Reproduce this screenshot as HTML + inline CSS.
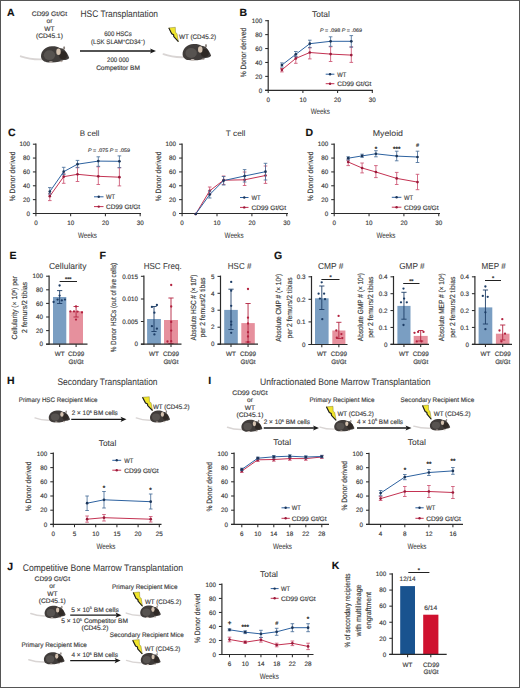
<!DOCTYPE html><html><head><meta charset="utf-8"><style>html,body{margin:0;padding:0;background:#fff;}svg{display:block;font-family:"Liberation Sans",sans-serif;text-rendering:geometricPrecision;}text{stroke:currentColor;stroke-width:0.15px;}text.big{stroke-width:0.06px;}</style></head><body>
<svg width="520" height="688" viewBox="0 0 520 688">
<rect x="0" y="0" width="520" height="688" fill="#fff"/>
<text x="7.00" y="15.70" font-size="10.5" font-weight="bold" fill="#111" color="#111">A</text>
<text x="49.50" y="16.18" font-size="6.6" text-anchor="middle" textLength="35.50" lengthAdjust="spacingAndGlyphs" fill="#3a3a3a" color="#3a3a3a">CD99 Gt/Gt</text>
<text x="49.50" y="23.38" font-size="6.6" text-anchor="middle" fill="#3a3a3a" color="#3a3a3a">or</text>
<text x="49.50" y="30.78" font-size="6.6" text-anchor="middle" fill="#3a3a3a" color="#3a3a3a">WT</text>
<text x="49.50" y="38.38" font-size="6.6" text-anchor="middle" textLength="27.00" lengthAdjust="spacingAndGlyphs" fill="#3a3a3a" color="#3a3a3a">(CD45.1)</text>
<path d="M43.82,59.26 Q30.90,59.91 20.80,56.34" fill="none" stroke="#d9d5d4" stroke-width="1.94" stroke-linecap="round"/>
<path d="M41.00,56.34 C41.00,51.16 45.23,46.62 51.72,46.30 C55.10,46.14 57.92,46.79 59.61,47.92 C61.30,48.24 63.00,48.24 64.12,49.54 C66.38,51.97 68.35,55.21 69.20,57.96 C68.64,59.26 66.38,59.91 63.56,60.07 C60.74,62.18 53.69,62.82 46.64,62.18 C43.26,61.69 41.00,59.26 41.00,56.34 Z" fill="#403c3a"/>
<ellipse cx="49.46" cy="55.21" rx="5.64" ry="4.86" fill="#6e6a66" opacity="0.5"/>
<ellipse cx="63.00" cy="55.21" rx="3.95" ry="4.05" fill="#2a2420" opacity="0.8"/>
<ellipse cx="64.12" cy="47.92" rx="0.99" ry="1.62" fill="#8d8580"/>
<ellipse cx="58.48" cy="51.65" rx="2.20" ry="3.24" fill="#d4c2b0"/>
<ellipse cx="50.87" cy="62.01" rx="1.97" ry="0.81" fill="#c9beb8"/>
<ellipse cx="61.30" cy="61.37" rx="1.41" ry="0.81" fill="#b9aea8"/>
<text class="big" x="80.50" y="17.46" font-size="9.6" textLength="77.50" lengthAdjust="spacingAndGlyphs" fill="#3a3a3a" color="#3a3a3a">HSC Transplantation</text>
<text x="118.00" y="36.38" font-size="6.6" text-anchor="middle" textLength="27.50" lengthAdjust="spacingAndGlyphs" fill="#3a3a3a" color="#3a3a3a">600 HSCs</text>
<text x="118.00" y="44.18" font-size="6.6" text-anchor="middle" textLength="54.00" lengthAdjust="spacingAndGlyphs" fill="#3a3a3a" color="#3a3a3a">(LSK SLAM<tspan font-size="4" dy="-2.5">+</tspan><tspan dy="2.5">CD34</tspan><tspan font-size="4" dy="-2.5">−</tspan><tspan dy="2.5">)</tspan></text>
<line x1="80.00" y1="51.00" x2="152.00" y2="51.00" stroke="#1a1a1a" stroke-width="1.3"/>
<polygon points="150.00,48.40 156.00,51.00 150.00,53.60 151.40,51.00" fill="#1a1a1a"/>
<text x="118.00" y="61.88" font-size="6.6" text-anchor="middle" textLength="22.00" lengthAdjust="spacingAndGlyphs" fill="#3a3a3a" color="#3a3a3a">200 000</text>
<text x="118.00" y="69.88" font-size="6.6" text-anchor="middle" textLength="43.75" lengthAdjust="spacingAndGlyphs" fill="#3a3a3a" color="#3a3a3a">Competitor BM</text>
<polygon points="168.80,27.88 175.33,27.30 175.52,32.48 177.06,33.64 178.40,41.70 173.79,36.52 173.60,34.79 171.68,33.78" fill="#f0e52c" stroke="#6b6420" stroke-width="0.4" stroke-linejoin="round"/>
<polyline points="168.80,27.88 171.68,33.78 173.60,34.79 173.79,36.52 178.40,41.70" fill="none" stroke="#1c1c1c" stroke-width="1.1" stroke-linejoin="round"/>
<text x="179.00" y="38.88" font-size="6.6" textLength="37.00" lengthAdjust="spacingAndGlyphs" fill="#3a3a3a" color="#3a3a3a">WT (CD45.2)</text>
<path d="M185.45,57.12 Q173.05,57.78 163.50,54.17" fill="none" stroke="#d9d5d4" stroke-width="1.97" stroke-linecap="round"/>
<path d="M182.60,54.17 C182.60,48.92 186.88,44.33 193.43,44.00 C196.85,43.84 199.70,44.49 201.41,45.64 C203.12,45.97 204.83,45.97 205.97,47.28 C208.25,49.74 210.25,53.02 211.10,55.81 C210.53,57.12 208.25,57.78 205.40,57.94 C202.55,60.07 195.42,60.73 188.30,60.07 C184.88,59.58 182.60,57.12 182.60,54.17 Z" fill="#403c3a"/>
<ellipse cx="191.15" cy="53.02" rx="5.70" ry="4.92" fill="#6e6a66" opacity="0.5"/>
<ellipse cx="204.83" cy="53.02" rx="3.99" ry="4.10" fill="#2a2420" opacity="0.8"/>
<ellipse cx="205.97" cy="45.64" rx="1.00" ry="1.64" fill="#8d8580"/>
<ellipse cx="200.27" cy="49.41" rx="2.22" ry="3.28" fill="#d4c2b0"/>
<ellipse cx="192.57" cy="59.91" rx="2.00" ry="0.82" fill="#c9beb8"/>
<ellipse cx="203.12" cy="59.25" rx="1.43" ry="0.82" fill="#b9aea8"/>
<text x="239.50" y="16.00" font-size="10.5" font-weight="bold" fill="#111" color="#111">B</text>
<text class="big" x="321.00" y="17.02" font-size="8.4" text-anchor="middle" textLength="17.90" lengthAdjust="spacingAndGlyphs" fill="#3a3a3a" color="#3a3a3a">Total</text>
<line x1="268.20" y1="19.90" x2="268.20" y2="90.80" stroke="#2b2b2b" stroke-width="1.2"/>
<line x1="265.20" y1="90.30" x2="268.20" y2="90.30" stroke="#2b2b2b" stroke-width="1.05"/>
<text x="262.20" y="92.57" font-size="6.3" text-anchor="end" fill="#3a3a3a" color="#3a3a3a">0</text>
<line x1="265.20" y1="76.38" x2="268.20" y2="76.38" stroke="#2b2b2b" stroke-width="1.05"/>
<text x="262.20" y="78.65" font-size="6.3" text-anchor="end" fill="#3a3a3a" color="#3a3a3a">20</text>
<line x1="265.20" y1="62.46" x2="268.20" y2="62.46" stroke="#2b2b2b" stroke-width="1.05"/>
<text x="262.20" y="64.73" font-size="6.3" text-anchor="end" fill="#3a3a3a" color="#3a3a3a">40</text>
<line x1="265.20" y1="48.54" x2="268.20" y2="48.54" stroke="#2b2b2b" stroke-width="1.05"/>
<text x="262.20" y="50.81" font-size="6.3" text-anchor="end" fill="#3a3a3a" color="#3a3a3a">60</text>
<line x1="265.20" y1="34.62" x2="268.20" y2="34.62" stroke="#2b2b2b" stroke-width="1.05"/>
<text x="262.20" y="36.89" font-size="6.3" text-anchor="end" fill="#3a3a3a" color="#3a3a3a">80</text>
<line x1="265.20" y1="20.70" x2="268.20" y2="20.70" stroke="#2b2b2b" stroke-width="1.05"/>
<text x="262.20" y="22.97" font-size="6.3" text-anchor="end" fill="#3a3a3a" color="#3a3a3a">100</text>
<line x1="265.20" y1="90.30" x2="373.00" y2="90.30" stroke="#2b2b2b" stroke-width="1.2"/>
<line x1="268.20" y1="90.30" x2="268.20" y2="93.10" stroke="#2b2b2b" stroke-width="1.05"/>
<text x="268.20" y="101.87" font-size="6.3" text-anchor="middle" fill="#3a3a3a" color="#3a3a3a">0</text>
<line x1="302.90" y1="90.30" x2="302.90" y2="93.10" stroke="#2b2b2b" stroke-width="1.05"/>
<text x="302.90" y="101.87" font-size="6.3" text-anchor="middle" fill="#3a3a3a" color="#3a3a3a">10</text>
<line x1="337.60" y1="90.30" x2="337.60" y2="93.10" stroke="#2b2b2b" stroke-width="1.05"/>
<text x="337.60" y="101.87" font-size="6.3" text-anchor="middle" fill="#3a3a3a" color="#3a3a3a">20</text>
<line x1="372.30" y1="90.30" x2="372.30" y2="93.10" stroke="#2b2b2b" stroke-width="1.05"/>
<text x="372.30" y="101.87" font-size="6.3" text-anchor="middle" fill="#3a3a3a" color="#3a3a3a">30</text>
<text class="big" x="320.30" y="114.48" font-size="8" text-anchor="middle" textLength="19.00" lengthAdjust="spacingAndGlyphs" fill="#3a3a3a" color="#3a3a3a">Weeks</text>
<text transform="translate(246.41,52.60) rotate(-90)" text-anchor="middle" font-size="7.8" textLength="49.50" lengthAdjust="spacingAndGlyphs" fill="#3a3a3a" color="#3a3a3a">% Donor derived</text>
<line x1="281.90" y1="68.50" x2="281.90" y2="71.90" stroke="#cc5472" stroke-width="0.85"/>
<line x1="280.10" y1="68.50" x2="283.70" y2="68.50" stroke="#cc5472" stroke-width="0.85"/>
<line x1="280.10" y1="71.90" x2="283.70" y2="71.90" stroke="#cc5472" stroke-width="0.85"/>
<line x1="295.80" y1="56.30" x2="295.80" y2="63.30" stroke="#cc5472" stroke-width="0.85"/>
<line x1="294.00" y1="56.30" x2="297.60" y2="56.30" stroke="#cc5472" stroke-width="0.85"/>
<line x1="294.00" y1="63.30" x2="297.60" y2="63.30" stroke="#cc5472" stroke-width="0.85"/>
<line x1="309.80" y1="47.70" x2="309.80" y2="58.90" stroke="#cc5472" stroke-width="0.85"/>
<line x1="308.00" y1="47.70" x2="311.60" y2="47.70" stroke="#cc5472" stroke-width="0.85"/>
<line x1="308.00" y1="58.90" x2="311.60" y2="58.90" stroke="#cc5472" stroke-width="0.85"/>
<line x1="330.60" y1="46.80" x2="330.60" y2="61.50" stroke="#cc5472" stroke-width="0.85"/>
<line x1="328.80" y1="46.80" x2="332.40" y2="46.80" stroke="#cc5472" stroke-width="0.85"/>
<line x1="328.80" y1="61.50" x2="332.40" y2="61.50" stroke="#cc5472" stroke-width="0.85"/>
<line x1="351.30" y1="46.80" x2="351.30" y2="62.40" stroke="#cc5472" stroke-width="0.85"/>
<line x1="349.50" y1="46.80" x2="353.10" y2="46.80" stroke="#cc5472" stroke-width="0.85"/>
<line x1="349.50" y1="62.40" x2="353.10" y2="62.40" stroke="#cc5472" stroke-width="0.85"/>
<polyline points="281.90,69.80 295.80,58.40 309.80,52.50 330.60,54.10 351.30,55.10" fill="none" stroke="#c43252" stroke-width="1.0"/>
<circle cx="281.90" cy="69.80" r="1.35" fill="#9a1a3a"/>
<circle cx="295.80" cy="58.40" r="1.35" fill="#9a1a3a"/>
<circle cx="309.80" cy="52.50" r="1.35" fill="#9a1a3a"/>
<circle cx="330.60" cy="54.10" r="1.35" fill="#9a1a3a"/>
<circle cx="351.30" cy="55.10" r="1.35" fill="#9a1a3a"/>
<line x1="281.90" y1="62.90" x2="281.90" y2="67.10" stroke="#4a6f9a" stroke-width="0.85"/>
<line x1="280.10" y1="62.90" x2="283.70" y2="62.90" stroke="#4a6f9a" stroke-width="0.85"/>
<line x1="280.10" y1="67.10" x2="283.70" y2="67.10" stroke="#4a6f9a" stroke-width="0.85"/>
<line x1="295.80" y1="51.50" x2="295.80" y2="56.70" stroke="#4a6f9a" stroke-width="0.85"/>
<line x1="294.00" y1="51.50" x2="297.60" y2="51.50" stroke="#4a6f9a" stroke-width="0.85"/>
<line x1="294.00" y1="56.70" x2="297.60" y2="56.70" stroke="#4a6f9a" stroke-width="0.85"/>
<line x1="309.80" y1="40.20" x2="309.80" y2="47.70" stroke="#4a6f9a" stroke-width="0.85"/>
<line x1="308.00" y1="40.20" x2="311.60" y2="40.20" stroke="#4a6f9a" stroke-width="0.85"/>
<line x1="308.00" y1="47.70" x2="311.60" y2="47.70" stroke="#4a6f9a" stroke-width="0.85"/>
<line x1="330.60" y1="36.80" x2="330.60" y2="46.30" stroke="#4a6f9a" stroke-width="0.85"/>
<line x1="328.80" y1="36.80" x2="332.40" y2="36.80" stroke="#4a6f9a" stroke-width="0.85"/>
<line x1="328.80" y1="46.30" x2="332.40" y2="46.30" stroke="#4a6f9a" stroke-width="0.85"/>
<line x1="351.30" y1="35.60" x2="351.30" y2="47.20" stroke="#4a6f9a" stroke-width="0.85"/>
<line x1="349.50" y1="35.60" x2="353.10" y2="35.60" stroke="#4a6f9a" stroke-width="0.85"/>
<line x1="349.50" y1="47.20" x2="353.10" y2="47.20" stroke="#4a6f9a" stroke-width="0.85"/>
<polyline points="281.90,65.00 295.80,54.30 309.80,43.70 330.60,41.30 351.30,41.30" fill="none" stroke="#2d62a0" stroke-width="1.0"/>
<circle cx="281.90" cy="65.00" r="1.35" fill="#1c3558"/>
<circle cx="295.80" cy="54.30" r="1.35" fill="#1c3558"/>
<circle cx="309.80" cy="43.70" r="1.35" fill="#1c3558"/>
<circle cx="330.60" cy="41.30" r="1.35" fill="#1c3558"/>
<circle cx="351.30" cy="41.30" r="1.35" fill="#1c3558"/>
<text x="320.00" y="31.67" font-size="5.2" textLength="42.00" lengthAdjust="spacingAndGlyphs" fill="#3a3a3a" color="#3a3a3a"><tspan font-style="italic">P</tspan> = .098 <tspan font-style="italic">P</tspan> = .069</text>
<line x1="325.70" y1="74.20" x2="334.40" y2="74.20" stroke="#2d62a0" stroke-width="1.0"/>
<circle cx="330.05" cy="74.20" r="1.2" fill="#1c3558"/>
<line x1="325.70" y1="83.70" x2="334.40" y2="83.70" stroke="#c43252" stroke-width="1.0"/>
<circle cx="330.05" cy="83.70" r="1.2" fill="#9a1a3a"/>
<text x="337.20" y="76.54" font-size="6.5" textLength="9.00" lengthAdjust="spacingAndGlyphs" fill="#3a3a3a" color="#3a3a3a">WT</text>
<text x="337.20" y="86.04" font-size="6.5" textLength="34.20" lengthAdjust="spacingAndGlyphs" fill="#3a3a3a" color="#3a3a3a">CD99 Gt/Gt</text>
<text x="8.00" y="135.50" font-size="10.5" font-weight="bold" fill="#111" color="#111">C</text>
<text class="big" x="89.60" y="135.58" font-size="8" text-anchor="middle" textLength="19.60" lengthAdjust="spacingAndGlyphs" fill="#3a3a3a" color="#3a3a3a">B cell</text>
<line x1="35.90" y1="143.40" x2="35.90" y2="214.00" stroke="#2b2b2b" stroke-width="1.2"/>
<line x1="32.90" y1="213.50" x2="35.90" y2="213.50" stroke="#2b2b2b" stroke-width="1.05"/>
<text x="29.90" y="215.77" font-size="6.3" text-anchor="end" fill="#3a3a3a" color="#3a3a3a">0</text>
<line x1="32.90" y1="199.64" x2="35.90" y2="199.64" stroke="#2b2b2b" stroke-width="1.05"/>
<text x="29.90" y="201.91" font-size="6.3" text-anchor="end" fill="#3a3a3a" color="#3a3a3a">20</text>
<line x1="32.90" y1="185.78" x2="35.90" y2="185.78" stroke="#2b2b2b" stroke-width="1.05"/>
<text x="29.90" y="188.05" font-size="6.3" text-anchor="end" fill="#3a3a3a" color="#3a3a3a">40</text>
<line x1="32.90" y1="171.92" x2="35.90" y2="171.92" stroke="#2b2b2b" stroke-width="1.05"/>
<text x="29.90" y="174.19" font-size="6.3" text-anchor="end" fill="#3a3a3a" color="#3a3a3a">60</text>
<line x1="32.90" y1="158.06" x2="35.90" y2="158.06" stroke="#2b2b2b" stroke-width="1.05"/>
<text x="29.90" y="160.33" font-size="6.3" text-anchor="end" fill="#3a3a3a" color="#3a3a3a">80</text>
<line x1="32.90" y1="144.20" x2="35.90" y2="144.20" stroke="#2b2b2b" stroke-width="1.05"/>
<text x="29.90" y="146.47" font-size="6.3" text-anchor="end" fill="#3a3a3a" color="#3a3a3a">100</text>
<line x1="32.90" y1="213.50" x2="141.00" y2="213.50" stroke="#2b2b2b" stroke-width="1.2"/>
<line x1="35.90" y1="213.50" x2="35.90" y2="216.30" stroke="#2b2b2b" stroke-width="1.05"/>
<text x="35.90" y="225.47" font-size="6.3" text-anchor="middle" fill="#3a3a3a" color="#3a3a3a">0</text>
<line x1="70.65" y1="213.50" x2="70.65" y2="216.30" stroke="#2b2b2b" stroke-width="1.05"/>
<text x="70.65" y="225.47" font-size="6.3" text-anchor="middle" fill="#3a3a3a" color="#3a3a3a">10</text>
<line x1="105.40" y1="213.50" x2="105.40" y2="216.30" stroke="#2b2b2b" stroke-width="1.05"/>
<text x="105.40" y="225.47" font-size="6.3" text-anchor="middle" fill="#3a3a3a" color="#3a3a3a">20</text>
<line x1="140.15" y1="213.50" x2="140.15" y2="216.30" stroke="#2b2b2b" stroke-width="1.05"/>
<text x="140.15" y="225.47" font-size="6.3" text-anchor="middle" fill="#3a3a3a" color="#3a3a3a">30</text>
<text class="big" x="87.50" y="238.08" font-size="8" text-anchor="middle" textLength="19.00" lengthAdjust="spacingAndGlyphs" fill="#3a3a3a" color="#3a3a3a">Weeks</text>
<text transform="translate(14.81,176.40) rotate(-90)" text-anchor="middle" font-size="7.8" textLength="49.50" lengthAdjust="spacingAndGlyphs" fill="#3a3a3a" color="#3a3a3a">% Donor derived</text>
<line x1="49.80" y1="193.70" x2="49.80" y2="200.60" stroke="#cc5472" stroke-width="0.85"/>
<line x1="48.00" y1="193.70" x2="51.60" y2="193.70" stroke="#cc5472" stroke-width="0.85"/>
<line x1="48.00" y1="200.60" x2="51.60" y2="200.60" stroke="#cc5472" stroke-width="0.85"/>
<line x1="63.70" y1="173.70" x2="63.70" y2="183.30" stroke="#cc5472" stroke-width="0.85"/>
<line x1="61.90" y1="173.70" x2="65.50" y2="173.70" stroke="#cc5472" stroke-width="0.85"/>
<line x1="61.90" y1="183.30" x2="65.50" y2="183.30" stroke="#cc5472" stroke-width="0.85"/>
<line x1="77.50" y1="167.30" x2="77.50" y2="181.50" stroke="#cc5472" stroke-width="0.85"/>
<line x1="75.70" y1="167.30" x2="79.30" y2="167.30" stroke="#cc5472" stroke-width="0.85"/>
<line x1="75.70" y1="181.50" x2="79.30" y2="181.50" stroke="#cc5472" stroke-width="0.85"/>
<line x1="98.30" y1="166.80" x2="98.30" y2="184.50" stroke="#cc5472" stroke-width="0.85"/>
<line x1="96.50" y1="166.80" x2="100.10" y2="166.80" stroke="#cc5472" stroke-width="0.85"/>
<line x1="96.50" y1="184.50" x2="100.10" y2="184.50" stroke="#cc5472" stroke-width="0.85"/>
<line x1="119.40" y1="167.70" x2="119.40" y2="185.90" stroke="#cc5472" stroke-width="0.85"/>
<line x1="117.60" y1="167.70" x2="121.20" y2="167.70" stroke="#cc5472" stroke-width="0.85"/>
<line x1="117.60" y1="185.90" x2="121.20" y2="185.90" stroke="#cc5472" stroke-width="0.85"/>
<polyline points="49.80,196.20 63.70,176.70 77.50,174.30 98.30,176.30 119.40,177.20" fill="none" stroke="#c43252" stroke-width="1.0"/>
<circle cx="49.80" cy="196.20" r="1.35" fill="#9a1a3a"/>
<circle cx="63.70" cy="176.70" r="1.35" fill="#9a1a3a"/>
<circle cx="77.50" cy="174.30" r="1.35" fill="#9a1a3a"/>
<circle cx="98.30" cy="176.30" r="1.35" fill="#9a1a3a"/>
<circle cx="119.40" cy="177.20" r="1.35" fill="#9a1a3a"/>
<line x1="49.80" y1="187.60" x2="49.80" y2="194.00" stroke="#4a6f9a" stroke-width="0.85"/>
<line x1="48.00" y1="187.60" x2="51.60" y2="187.60" stroke="#4a6f9a" stroke-width="0.85"/>
<line x1="48.00" y1="194.00" x2="51.60" y2="194.00" stroke="#4a6f9a" stroke-width="0.85"/>
<line x1="63.70" y1="167.30" x2="63.70" y2="174.60" stroke="#4a6f9a" stroke-width="0.85"/>
<line x1="61.90" y1="167.30" x2="65.50" y2="167.30" stroke="#4a6f9a" stroke-width="0.85"/>
<line x1="61.90" y1="174.60" x2="65.50" y2="174.60" stroke="#4a6f9a" stroke-width="0.85"/>
<line x1="77.50" y1="160.40" x2="77.50" y2="167.70" stroke="#4a6f9a" stroke-width="0.85"/>
<line x1="75.70" y1="160.40" x2="79.30" y2="160.40" stroke="#4a6f9a" stroke-width="0.85"/>
<line x1="75.70" y1="167.70" x2="79.30" y2="167.70" stroke="#4a6f9a" stroke-width="0.85"/>
<line x1="98.30" y1="156.80" x2="98.30" y2="166.30" stroke="#4a6f9a" stroke-width="0.85"/>
<line x1="96.50" y1="156.80" x2="100.10" y2="156.80" stroke="#4a6f9a" stroke-width="0.85"/>
<line x1="96.50" y1="166.30" x2="100.10" y2="166.30" stroke="#4a6f9a" stroke-width="0.85"/>
<line x1="119.40" y1="155.90" x2="119.40" y2="167.70" stroke="#4a6f9a" stroke-width="0.85"/>
<line x1="117.60" y1="155.90" x2="121.20" y2="155.90" stroke="#4a6f9a" stroke-width="0.85"/>
<line x1="117.60" y1="167.70" x2="121.20" y2="167.70" stroke="#4a6f9a" stroke-width="0.85"/>
<polyline points="49.80,191.60 63.70,171.70 77.50,164.20 98.30,161.10 119.40,161.30" fill="none" stroke="#2d62a0" stroke-width="1.0"/>
<circle cx="49.80" cy="191.60" r="1.35" fill="#1c3558"/>
<circle cx="63.70" cy="171.70" r="1.35" fill="#1c3558"/>
<circle cx="77.50" cy="164.20" r="1.35" fill="#1c3558"/>
<circle cx="98.30" cy="161.10" r="1.35" fill="#1c3558"/>
<circle cx="119.40" cy="161.30" r="1.35" fill="#1c3558"/>
<text x="87.90" y="152.27" font-size="5.2" textLength="42.00" lengthAdjust="spacingAndGlyphs" fill="#3a3a3a" color="#3a3a3a"><tspan font-style="italic">P</tspan> = .075 <tspan font-style="italic">P</tspan> = .059</text>
<line x1="94.00" y1="196.80" x2="103.50" y2="196.80" stroke="#2d62a0" stroke-width="1.0"/>
<circle cx="98.75" cy="196.80" r="1.2" fill="#1c3558"/>
<line x1="94.00" y1="206.60" x2="103.50" y2="206.60" stroke="#c43252" stroke-width="1.0"/>
<circle cx="98.75" cy="206.60" r="1.2" fill="#9a1a3a"/>
<text x="106.10" y="199.14" font-size="6.5" textLength="9.00" lengthAdjust="spacingAndGlyphs" fill="#3a3a3a" color="#3a3a3a">WT</text>
<text x="106.10" y="208.94" font-size="6.5" textLength="34.00" lengthAdjust="spacingAndGlyphs" fill="#3a3a3a" color="#3a3a3a">CD99 Gt/Gt</text>
<text class="big" x="235.60" y="135.58" font-size="8" text-anchor="middle" textLength="19.60" lengthAdjust="spacingAndGlyphs" fill="#3a3a3a" color="#3a3a3a">T cell</text>
<line x1="182.10" y1="143.40" x2="182.10" y2="214.00" stroke="#2b2b2b" stroke-width="1.2"/>
<line x1="179.10" y1="213.50" x2="182.10" y2="213.50" stroke="#2b2b2b" stroke-width="1.05"/>
<text x="176.10" y="215.77" font-size="6.3" text-anchor="end" fill="#3a3a3a" color="#3a3a3a">0</text>
<line x1="179.10" y1="199.64" x2="182.10" y2="199.64" stroke="#2b2b2b" stroke-width="1.05"/>
<text x="176.10" y="201.91" font-size="6.3" text-anchor="end" fill="#3a3a3a" color="#3a3a3a">20</text>
<line x1="179.10" y1="185.78" x2="182.10" y2="185.78" stroke="#2b2b2b" stroke-width="1.05"/>
<text x="176.10" y="188.05" font-size="6.3" text-anchor="end" fill="#3a3a3a" color="#3a3a3a">40</text>
<line x1="179.10" y1="171.92" x2="182.10" y2="171.92" stroke="#2b2b2b" stroke-width="1.05"/>
<text x="176.10" y="174.19" font-size="6.3" text-anchor="end" fill="#3a3a3a" color="#3a3a3a">60</text>
<line x1="179.10" y1="158.06" x2="182.10" y2="158.06" stroke="#2b2b2b" stroke-width="1.05"/>
<text x="176.10" y="160.33" font-size="6.3" text-anchor="end" fill="#3a3a3a" color="#3a3a3a">80</text>
<line x1="179.10" y1="144.20" x2="182.10" y2="144.20" stroke="#2b2b2b" stroke-width="1.05"/>
<text x="176.10" y="146.47" font-size="6.3" text-anchor="end" fill="#3a3a3a" color="#3a3a3a">100</text>
<line x1="179.10" y1="213.50" x2="288.00" y2="213.50" stroke="#2b2b2b" stroke-width="1.2"/>
<line x1="182.10" y1="213.50" x2="182.10" y2="216.30" stroke="#2b2b2b" stroke-width="1.05"/>
<text x="182.10" y="225.47" font-size="6.3" text-anchor="middle" fill="#3a3a3a" color="#3a3a3a">0</text>
<line x1="217.00" y1="213.50" x2="217.00" y2="216.30" stroke="#2b2b2b" stroke-width="1.05"/>
<text x="217.00" y="225.47" font-size="6.3" text-anchor="middle" fill="#3a3a3a" color="#3a3a3a">10</text>
<line x1="251.90" y1="213.50" x2="251.90" y2="216.30" stroke="#2b2b2b" stroke-width="1.05"/>
<text x="251.90" y="225.47" font-size="6.3" text-anchor="middle" fill="#3a3a3a" color="#3a3a3a">20</text>
<line x1="286.80" y1="213.50" x2="286.80" y2="216.30" stroke="#2b2b2b" stroke-width="1.05"/>
<text x="286.80" y="225.47" font-size="6.3" text-anchor="middle" fill="#3a3a3a" color="#3a3a3a">30</text>
<text class="big" x="234.10" y="238.08" font-size="8" text-anchor="middle" textLength="19.00" lengthAdjust="spacingAndGlyphs" fill="#3a3a3a" color="#3a3a3a">Weeks</text>
<text transform="translate(160.81,176.40) rotate(-90)" text-anchor="middle" font-size="7.8" textLength="49.50" lengthAdjust="spacingAndGlyphs" fill="#3a3a3a" color="#3a3a3a">% Donor derived</text>
<line x1="209.70" y1="187.00" x2="209.70" y2="194.00" stroke="#cc5472" stroke-width="0.85"/>
<line x1="207.90" y1="187.00" x2="211.50" y2="187.00" stroke="#cc5472" stroke-width="0.85"/>
<line x1="207.90" y1="194.00" x2="211.50" y2="194.00" stroke="#cc5472" stroke-width="0.85"/>
<line x1="223.60" y1="176.00" x2="223.60" y2="184.50" stroke="#cc5472" stroke-width="0.85"/>
<line x1="221.80" y1="176.00" x2="225.40" y2="176.00" stroke="#cc5472" stroke-width="0.85"/>
<line x1="221.80" y1="184.50" x2="225.40" y2="184.50" stroke="#cc5472" stroke-width="0.85"/>
<line x1="244.60" y1="172.00" x2="244.60" y2="185.50" stroke="#cc5472" stroke-width="0.85"/>
<line x1="242.80" y1="172.00" x2="246.40" y2="172.00" stroke="#cc5472" stroke-width="0.85"/>
<line x1="242.80" y1="185.50" x2="246.40" y2="185.50" stroke="#cc5472" stroke-width="0.85"/>
<line x1="265.50" y1="166.00" x2="265.50" y2="183.40" stroke="#cc5472" stroke-width="0.85"/>
<line x1="263.70" y1="166.00" x2="267.30" y2="166.00" stroke="#cc5472" stroke-width="0.85"/>
<line x1="263.70" y1="183.40" x2="267.30" y2="183.40" stroke="#cc5472" stroke-width="0.85"/>
<polyline points="195.70,214.00 209.70,190.80 223.60,180.20 244.60,179.80 265.50,175.50" fill="none" stroke="#c43252" stroke-width="1.0"/>
<circle cx="195.70" cy="214.00" r="1.35" fill="#9a1a3a"/>
<circle cx="209.70" cy="190.80" r="1.35" fill="#9a1a3a"/>
<circle cx="223.60" cy="180.20" r="1.35" fill="#9a1a3a"/>
<circle cx="244.60" cy="179.80" r="1.35" fill="#9a1a3a"/>
<circle cx="265.50" cy="175.50" r="1.35" fill="#9a1a3a"/>
<line x1="209.70" y1="191.00" x2="209.70" y2="198.00" stroke="#4a6f9a" stroke-width="0.85"/>
<line x1="207.90" y1="191.00" x2="211.50" y2="191.00" stroke="#4a6f9a" stroke-width="0.85"/>
<line x1="207.90" y1="198.00" x2="211.50" y2="198.00" stroke="#4a6f9a" stroke-width="0.85"/>
<line x1="223.60" y1="176.50" x2="223.60" y2="185.00" stroke="#4a6f9a" stroke-width="0.85"/>
<line x1="221.80" y1="176.50" x2="225.40" y2="176.50" stroke="#4a6f9a" stroke-width="0.85"/>
<line x1="221.80" y1="185.00" x2="225.40" y2="185.00" stroke="#4a6f9a" stroke-width="0.85"/>
<line x1="244.60" y1="169.60" x2="244.60" y2="182.00" stroke="#4a6f9a" stroke-width="0.85"/>
<line x1="242.80" y1="169.60" x2="246.40" y2="169.60" stroke="#4a6f9a" stroke-width="0.85"/>
<line x1="242.80" y1="182.00" x2="246.40" y2="182.00" stroke="#4a6f9a" stroke-width="0.85"/>
<line x1="265.50" y1="163.30" x2="265.50" y2="180.00" stroke="#4a6f9a" stroke-width="0.85"/>
<line x1="263.70" y1="163.30" x2="267.30" y2="163.30" stroke="#4a6f9a" stroke-width="0.85"/>
<line x1="263.70" y1="180.00" x2="267.30" y2="180.00" stroke="#4a6f9a" stroke-width="0.85"/>
<polyline points="195.70,214.00 209.70,194.60 223.60,180.60 244.60,176.00 265.50,171.70" fill="none" stroke="#2d62a0" stroke-width="1.0"/>
<circle cx="195.70" cy="214.00" r="1.35" fill="#1c3558"/>
<circle cx="209.70" cy="194.60" r="1.35" fill="#1c3558"/>
<circle cx="223.60" cy="180.60" r="1.35" fill="#1c3558"/>
<circle cx="244.60" cy="176.00" r="1.35" fill="#1c3558"/>
<circle cx="265.50" cy="171.70" r="1.35" fill="#1c3558"/>
<line x1="240.00" y1="197.50" x2="248.50" y2="197.50" stroke="#2d62a0" stroke-width="1.0"/>
<circle cx="244.25" cy="197.50" r="1.2" fill="#1c3558"/>
<line x1="240.00" y1="207.40" x2="248.50" y2="207.40" stroke="#c43252" stroke-width="1.0"/>
<circle cx="244.25" cy="207.40" r="1.2" fill="#9a1a3a"/>
<text x="251.50" y="199.84" font-size="6.5" textLength="9.00" lengthAdjust="spacingAndGlyphs" fill="#3a3a3a" color="#3a3a3a">WT</text>
<text x="251.50" y="209.74" font-size="6.5" textLength="34.60" lengthAdjust="spacingAndGlyphs" fill="#3a3a3a" color="#3a3a3a">CD99 Gt/Gt</text>
<text x="305.40" y="136.00" font-size="10.5" font-weight="bold" fill="#111" color="#111">D</text>
<text class="big" x="387.90" y="136.15" font-size="8.2" text-anchor="middle" textLength="30.20" lengthAdjust="spacingAndGlyphs" fill="#3a3a3a" color="#3a3a3a">Myeloid</text>
<line x1="334.20" y1="143.40" x2="334.20" y2="214.00" stroke="#2b2b2b" stroke-width="1.2"/>
<line x1="331.20" y1="213.50" x2="334.20" y2="213.50" stroke="#2b2b2b" stroke-width="1.05"/>
<text x="328.20" y="215.77" font-size="6.3" text-anchor="end" fill="#3a3a3a" color="#3a3a3a">0</text>
<line x1="331.20" y1="199.64" x2="334.20" y2="199.64" stroke="#2b2b2b" stroke-width="1.05"/>
<text x="328.20" y="201.91" font-size="6.3" text-anchor="end" fill="#3a3a3a" color="#3a3a3a">20</text>
<line x1="331.20" y1="185.78" x2="334.20" y2="185.78" stroke="#2b2b2b" stroke-width="1.05"/>
<text x="328.20" y="188.05" font-size="6.3" text-anchor="end" fill="#3a3a3a" color="#3a3a3a">40</text>
<line x1="331.20" y1="171.92" x2="334.20" y2="171.92" stroke="#2b2b2b" stroke-width="1.05"/>
<text x="328.20" y="174.19" font-size="6.3" text-anchor="end" fill="#3a3a3a" color="#3a3a3a">60</text>
<line x1="331.20" y1="158.06" x2="334.20" y2="158.06" stroke="#2b2b2b" stroke-width="1.05"/>
<text x="328.20" y="160.33" font-size="6.3" text-anchor="end" fill="#3a3a3a" color="#3a3a3a">80</text>
<line x1="331.20" y1="144.20" x2="334.20" y2="144.20" stroke="#2b2b2b" stroke-width="1.05"/>
<text x="328.20" y="146.47" font-size="6.3" text-anchor="end" fill="#3a3a3a" color="#3a3a3a">100</text>
<line x1="331.20" y1="213.50" x2="440.00" y2="213.50" stroke="#2b2b2b" stroke-width="1.2"/>
<line x1="334.20" y1="213.50" x2="334.20" y2="216.30" stroke="#2b2b2b" stroke-width="1.05"/>
<text x="334.20" y="225.47" font-size="6.3" text-anchor="middle" fill="#3a3a3a" color="#3a3a3a">0</text>
<line x1="369.05" y1="213.50" x2="369.05" y2="216.30" stroke="#2b2b2b" stroke-width="1.05"/>
<text x="369.05" y="225.47" font-size="6.3" text-anchor="middle" fill="#3a3a3a" color="#3a3a3a">10</text>
<line x1="403.90" y1="213.50" x2="403.90" y2="216.30" stroke="#2b2b2b" stroke-width="1.05"/>
<text x="403.90" y="225.47" font-size="6.3" text-anchor="middle" fill="#3a3a3a" color="#3a3a3a">20</text>
<line x1="438.75" y1="213.50" x2="438.75" y2="216.30" stroke="#2b2b2b" stroke-width="1.05"/>
<text x="438.75" y="225.47" font-size="6.3" text-anchor="middle" fill="#3a3a3a" color="#3a3a3a">30</text>
<text class="big" x="386.00" y="238.08" font-size="8" text-anchor="middle" textLength="19.00" lengthAdjust="spacingAndGlyphs" fill="#3a3a3a" color="#3a3a3a">Weeks</text>
<text transform="translate(312.81,176.40) rotate(-90)" text-anchor="middle" font-size="7.8" textLength="49.50" lengthAdjust="spacingAndGlyphs" fill="#3a3a3a" color="#3a3a3a">% Donor derived</text>
<line x1="348.20" y1="160.20" x2="348.20" y2="165.60" stroke="#cc5472" stroke-width="0.85"/>
<line x1="346.40" y1="160.20" x2="350.00" y2="160.20" stroke="#cc5472" stroke-width="0.85"/>
<line x1="346.40" y1="165.60" x2="350.00" y2="165.60" stroke="#cc5472" stroke-width="0.85"/>
<line x1="362.10" y1="163.00" x2="362.10" y2="172.90" stroke="#cc5472" stroke-width="0.85"/>
<line x1="360.30" y1="163.00" x2="363.90" y2="163.00" stroke="#cc5472" stroke-width="0.85"/>
<line x1="360.30" y1="172.90" x2="363.90" y2="172.90" stroke="#cc5472" stroke-width="0.85"/>
<line x1="375.90" y1="165.60" x2="375.90" y2="177.60" stroke="#cc5472" stroke-width="0.85"/>
<line x1="374.10" y1="165.60" x2="377.70" y2="165.60" stroke="#cc5472" stroke-width="0.85"/>
<line x1="374.10" y1="177.60" x2="377.70" y2="177.60" stroke="#cc5472" stroke-width="0.85"/>
<line x1="396.70" y1="172.40" x2="396.70" y2="184.50" stroke="#cc5472" stroke-width="0.85"/>
<line x1="394.90" y1="172.40" x2="398.50" y2="172.40" stroke="#cc5472" stroke-width="0.85"/>
<line x1="394.90" y1="184.50" x2="398.50" y2="184.50" stroke="#cc5472" stroke-width="0.85"/>
<line x1="417.50" y1="174.30" x2="417.50" y2="189.70" stroke="#cc5472" stroke-width="0.85"/>
<line x1="415.70" y1="174.30" x2="419.30" y2="174.30" stroke="#cc5472" stroke-width="0.85"/>
<line x1="415.70" y1="189.70" x2="419.30" y2="189.70" stroke="#cc5472" stroke-width="0.85"/>
<polyline points="348.20,162.00 362.10,168.00 375.90,172.00 396.70,178.40 417.50,182.10" fill="none" stroke="#c43252" stroke-width="1.0"/>
<circle cx="348.20" cy="162.00" r="1.35" fill="#9a1a3a"/>
<circle cx="362.10" cy="168.00" r="1.35" fill="#9a1a3a"/>
<circle cx="375.90" cy="172.00" r="1.35" fill="#9a1a3a"/>
<circle cx="396.70" cy="178.40" r="1.35" fill="#9a1a3a"/>
<circle cx="417.50" cy="182.10" r="1.35" fill="#9a1a3a"/>
<line x1="348.20" y1="156.80" x2="348.20" y2="159.90" stroke="#4a6f9a" stroke-width="0.85"/>
<line x1="346.40" y1="156.80" x2="350.00" y2="156.80" stroke="#4a6f9a" stroke-width="0.85"/>
<line x1="346.40" y1="159.90" x2="350.00" y2="159.90" stroke="#4a6f9a" stroke-width="0.85"/>
<line x1="362.10" y1="154.20" x2="362.10" y2="157.30" stroke="#4a6f9a" stroke-width="0.85"/>
<line x1="360.30" y1="154.20" x2="363.90" y2="154.20" stroke="#4a6f9a" stroke-width="0.85"/>
<line x1="360.30" y1="157.30" x2="363.90" y2="157.30" stroke="#4a6f9a" stroke-width="0.85"/>
<line x1="375.90" y1="150.70" x2="375.90" y2="156.80" stroke="#4a6f9a" stroke-width="0.85"/>
<line x1="374.10" y1="150.70" x2="377.70" y2="150.70" stroke="#4a6f9a" stroke-width="0.85"/>
<line x1="374.10" y1="156.80" x2="377.70" y2="156.80" stroke="#4a6f9a" stroke-width="0.85"/>
<line x1="396.70" y1="151.20" x2="396.70" y2="160.80" stroke="#4a6f9a" stroke-width="0.85"/>
<line x1="394.90" y1="151.20" x2="398.50" y2="151.20" stroke="#4a6f9a" stroke-width="0.85"/>
<line x1="394.90" y1="160.80" x2="398.50" y2="160.80" stroke="#4a6f9a" stroke-width="0.85"/>
<line x1="417.50" y1="151.20" x2="417.50" y2="162.50" stroke="#4a6f9a" stroke-width="0.85"/>
<line x1="415.70" y1="151.20" x2="419.30" y2="151.20" stroke="#4a6f9a" stroke-width="0.85"/>
<line x1="415.70" y1="162.50" x2="419.30" y2="162.50" stroke="#4a6f9a" stroke-width="0.85"/>
<polyline points="348.20,158.20 362.10,155.90 375.90,153.80 396.70,156.10 417.50,157.00" fill="none" stroke="#2d62a0" stroke-width="1.0"/>
<circle cx="348.20" cy="158.20" r="1.35" fill="#1c3558"/>
<circle cx="362.10" cy="155.90" r="1.35" fill="#1c3558"/>
<circle cx="375.90" cy="153.80" r="1.35" fill="#1c3558"/>
<circle cx="396.70" cy="156.10" r="1.35" fill="#1c3558"/>
<circle cx="417.50" cy="157.00" r="1.35" fill="#1c3558"/>
<text x="375.90" y="151.07" font-size="6.3" text-anchor="middle" font-weight="bold" fill="#222" color="#222">*</text>
<text x="396.70" y="151.07" font-size="6.3" text-anchor="middle" font-weight="bold" fill="#222" color="#222">***</text>
<text x="417.50" y="146.98" font-size="5.5" text-anchor="middle" font-weight="bold" fill="#444" color="#444">#</text>
<line x1="391.80" y1="197.30" x2="401.40" y2="197.30" stroke="#2d62a0" stroke-width="1.0"/>
<circle cx="396.60" cy="197.30" r="1.2" fill="#1c3558"/>
<line x1="391.80" y1="207.20" x2="401.40" y2="207.20" stroke="#c43252" stroke-width="1.0"/>
<circle cx="396.60" cy="207.20" r="1.2" fill="#9a1a3a"/>
<text x="404.00" y="199.64" font-size="6.5" textLength="9.00" lengthAdjust="spacingAndGlyphs" fill="#3a3a3a" color="#3a3a3a">WT</text>
<text x="404.00" y="209.54" font-size="6.5" textLength="34.60" lengthAdjust="spacingAndGlyphs" fill="#3a3a3a" color="#3a3a3a">CD99 Gt/Gt</text>
<text x="9.60" y="258.50" font-size="10.5" font-weight="bold" fill="#111" color="#111">E</text>
<rect x="53.00" y="297.00" width="13.30" height="47.20" fill="#7a9ec2"/>
<rect x="69.20" y="311.20" width="13.80" height="33.00" fill="#e6909d"/>
<line x1="59.65" y1="290.60" x2="59.65" y2="303.50" stroke="#1d3d66" stroke-width="0.9"/>
<line x1="57.05" y1="290.60" x2="62.25" y2="290.60" stroke="#1d3d66" stroke-width="0.9"/>
<line x1="57.05" y1="303.50" x2="62.25" y2="303.50" stroke="#1d3d66" stroke-width="0.9"/>
<circle cx="53.60" cy="302.00" r="1.15" fill="#1d3d66"/>
<circle cx="57.60" cy="299.60" r="1.15" fill="#1d3d66"/>
<circle cx="59.60" cy="295.60" r="1.15" fill="#1d3d66"/>
<circle cx="61.80" cy="300.40" r="1.15" fill="#1d3d66"/>
<circle cx="65.00" cy="299.60" r="1.15" fill="#1d3d66"/>
<circle cx="59.60" cy="285.50" r="1.15" fill="#1d3d66"/>
<line x1="76.10" y1="306.50" x2="76.10" y2="317.00" stroke="#b3223f" stroke-width="0.9"/>
<line x1="73.50" y1="306.50" x2="78.70" y2="306.50" stroke="#b3223f" stroke-width="0.9"/>
<line x1="73.50" y1="317.00" x2="78.70" y2="317.00" stroke="#b3223f" stroke-width="0.9"/>
<circle cx="70.40" cy="311.40" r="1.15" fill="#b3223f"/>
<circle cx="74.00" cy="311.40" r="1.15" fill="#b3223f"/>
<circle cx="76.00" cy="306.40" r="1.15" fill="#b3223f"/>
<circle cx="77.60" cy="311.60" r="1.15" fill="#b3223f"/>
<circle cx="82.00" cy="312.40" r="1.15" fill="#b3223f"/>
<circle cx="76.00" cy="319.60" r="1.15" fill="#b3223f"/>
<line x1="49.10" y1="275.40" x2="49.10" y2="344.70" stroke="#2b2b2b" stroke-width="1.2"/>
<line x1="46.10" y1="344.20" x2="49.10" y2="344.20" stroke="#2b2b2b" stroke-width="1.05"/>
<text x="43.10" y="346.47" font-size="6.3" text-anchor="end" fill="#3a3a3a" color="#3a3a3a">0</text>
<line x1="46.10" y1="330.60" x2="49.10" y2="330.60" stroke="#2b2b2b" stroke-width="1.05"/>
<text x="43.10" y="332.87" font-size="6.3" text-anchor="end" fill="#3a3a3a" color="#3a3a3a">20</text>
<line x1="46.10" y1="317.00" x2="49.10" y2="317.00" stroke="#2b2b2b" stroke-width="1.05"/>
<text x="43.10" y="319.27" font-size="6.3" text-anchor="end" fill="#3a3a3a" color="#3a3a3a">40</text>
<line x1="46.10" y1="303.40" x2="49.10" y2="303.40" stroke="#2b2b2b" stroke-width="1.05"/>
<text x="43.10" y="305.67" font-size="6.3" text-anchor="end" fill="#3a3a3a" color="#3a3a3a">60</text>
<line x1="46.10" y1="289.80" x2="49.10" y2="289.80" stroke="#2b2b2b" stroke-width="1.05"/>
<text x="43.10" y="292.07" font-size="6.3" text-anchor="end" fill="#3a3a3a" color="#3a3a3a">80</text>
<line x1="46.10" y1="276.20" x2="49.10" y2="276.20" stroke="#2b2b2b" stroke-width="1.05"/>
<text x="43.10" y="278.47" font-size="6.3" text-anchor="end" fill="#3a3a3a" color="#3a3a3a">100</text>
<line x1="46.10" y1="344.20" x2="87.50" y2="344.20" stroke="#2b2b2b" stroke-width="1.2"/>
<line x1="59.65" y1="344.20" x2="59.65" y2="347.00" stroke="#2b2b2b" stroke-width="1.05"/>
<line x1="76.10" y1="344.20" x2="76.10" y2="347.00" stroke="#2b2b2b" stroke-width="1.05"/>
<text x="59.65" y="355.97" font-size="6.3" text-anchor="middle" fill="#3a3a3a" color="#3a3a3a">WT</text>
<text x="76.10" y="355.97" font-size="6.3" text-anchor="middle" fill="#3a3a3a" color="#3a3a3a">CD99</text>
<text x="76.10" y="363.57" font-size="6.3" text-anchor="middle" fill="#3a3a3a" color="#3a3a3a">Gt/Gt</text>
<text class="big" x="67.70" y="268.63" font-size="8.7" text-anchor="middle" textLength="37.50" lengthAdjust="spacingAndGlyphs" fill="#3a3a3a" color="#3a3a3a">Cellularity</text>
<text transform="translate(17.00,307.70) rotate(-90)" text-anchor="middle" font-size="7.5" textLength="63.40" lengthAdjust="spacingAndGlyphs" fill="#3a3a3a" color="#3a3a3a">Cellularity (× 10<tspan font-size="4" dy="-2.3">6</tspan><tspan dy="2.3">) per</tspan></text>
<text transform="translate(26.60,307.40) rotate(-90)" text-anchor="middle" font-size="7.5" textLength="51.00" lengthAdjust="spacingAndGlyphs" fill="#3a3a3a" color="#3a3a3a">2 femurs/2 tibias</text>
<line x1="59.60" y1="281.50" x2="77.00" y2="281.50" stroke="#222" stroke-width="1.0"/>
<text x="68.30" y="280.58" font-size="5.5" text-anchor="middle" font-weight="bold" fill="#222" color="#222">***</text>
<text x="99.60" y="258.50" font-size="10.5" font-weight="bold" fill="#111" color="#111">F</text>
<rect x="147.10" y="319.00" width="13.80" height="25.20" fill="#7a9ec2"/>
<rect x="164.00" y="320.00" width="14.00" height="24.20" fill="#e6909d"/>
<line x1="154.00" y1="306.50" x2="154.00" y2="331.50" stroke="#1d3d66" stroke-width="0.9"/>
<line x1="151.40" y1="306.50" x2="156.60" y2="306.50" stroke="#1d3d66" stroke-width="0.9"/>
<line x1="151.40" y1="331.50" x2="156.60" y2="331.50" stroke="#1d3d66" stroke-width="0.9"/>
<circle cx="151.90" cy="306.90" r="1.15" fill="#1d3d66"/>
<circle cx="156.90" cy="305.00" r="1.15" fill="#1d3d66"/>
<circle cx="154.40" cy="312.70" r="1.15" fill="#1d3d66"/>
<circle cx="151.90" cy="326.20" r="1.15" fill="#1d3d66"/>
<circle cx="156.90" cy="328.70" r="1.15" fill="#1d3d66"/>
<circle cx="154.40" cy="334.40" r="1.15" fill="#1d3d66"/>
<line x1="171.00" y1="298.00" x2="171.00" y2="343.50" stroke="#b3223f" stroke-width="0.9"/>
<line x1="168.40" y1="298.00" x2="173.60" y2="298.00" stroke="#b3223f" stroke-width="0.9"/>
<line x1="168.40" y1="343.50" x2="173.60" y2="343.50" stroke="#b3223f" stroke-width="0.9"/>
<circle cx="171.20" cy="285.00" r="1.15" fill="#b3223f"/>
<circle cx="171.20" cy="306.50" r="1.15" fill="#b3223f"/>
<circle cx="171.20" cy="321.90" r="1.15" fill="#b3223f"/>
<circle cx="171.20" cy="330.60" r="1.15" fill="#b3223f"/>
<circle cx="171.20" cy="341.20" r="1.15" fill="#b3223f"/>
<circle cx="167.50" cy="341.50" r="1.15" fill="#b3223f"/>
<line x1="143.90" y1="275.50" x2="143.90" y2="344.70" stroke="#2b2b2b" stroke-width="1.2"/>
<line x1="140.90" y1="344.20" x2="143.90" y2="344.20" stroke="#2b2b2b" stroke-width="1.05"/>
<text x="137.90" y="346.47" font-size="6.3" text-anchor="end" fill="#3a3a3a" color="#3a3a3a">0</text>
<line x1="140.90" y1="321.50" x2="143.90" y2="321.50" stroke="#2b2b2b" stroke-width="1.05"/>
<text x="137.90" y="323.77" font-size="6.3" text-anchor="end" fill="#3a3a3a" color="#3a3a3a">0.005</text>
<line x1="140.90" y1="299.00" x2="143.90" y2="299.00" stroke="#2b2b2b" stroke-width="1.05"/>
<text x="137.90" y="301.27" font-size="6.3" text-anchor="end" fill="#3a3a3a" color="#3a3a3a">0.010</text>
<line x1="140.90" y1="276.30" x2="143.90" y2="276.30" stroke="#2b2b2b" stroke-width="1.05"/>
<text x="137.90" y="278.57" font-size="6.3" text-anchor="end" fill="#3a3a3a" color="#3a3a3a">0.015</text>
<line x1="140.90" y1="344.20" x2="181.50" y2="344.20" stroke="#2b2b2b" stroke-width="1.2"/>
<line x1="154.00" y1="344.20" x2="154.00" y2="347.00" stroke="#2b2b2b" stroke-width="1.05"/>
<line x1="171.00" y1="344.20" x2="171.00" y2="347.00" stroke="#2b2b2b" stroke-width="1.05"/>
<text x="154.00" y="355.97" font-size="6.3" text-anchor="middle" fill="#3a3a3a" color="#3a3a3a">WT</text>
<text x="171.00" y="355.97" font-size="6.3" text-anchor="middle" fill="#3a3a3a" color="#3a3a3a">CD99</text>
<text x="171.00" y="363.57" font-size="6.3" text-anchor="middle" fill="#3a3a3a" color="#3a3a3a">Gt/Gt</text>
<text class="big" x="162.70" y="268.63" font-size="8.7" text-anchor="middle" textLength="38.00" lengthAdjust="spacingAndGlyphs" fill="#3a3a3a" color="#3a3a3a">HSC Freq.</text>
<text transform="translate(116.30,307.50) rotate(-90)" text-anchor="middle" font-size="7.5" textLength="89.40" lengthAdjust="spacingAndGlyphs" fill="#3a3a3a" color="#3a3a3a">% Donor HSCs (out of live cells)</text>
<rect x="224.20" y="309.90" width="13.60" height="34.30" fill="#7a9ec2"/>
<rect x="241.30" y="323.10" width="13.50" height="21.10" fill="#e6909d"/>
<line x1="231.00" y1="289.20" x2="231.00" y2="329.50" stroke="#1d3d66" stroke-width="0.9"/>
<line x1="228.40" y1="289.20" x2="233.60" y2="289.20" stroke="#1d3d66" stroke-width="0.9"/>
<line x1="228.40" y1="329.50" x2="233.60" y2="329.50" stroke="#1d3d66" stroke-width="0.9"/>
<circle cx="231.20" cy="281.90" r="1.15" fill="#1d3d66"/>
<circle cx="231.20" cy="290.70" r="1.15" fill="#1d3d66"/>
<circle cx="231.20" cy="305.80" r="1.15" fill="#1d3d66"/>
<circle cx="231.20" cy="321.70" r="1.15" fill="#1d3d66"/>
<circle cx="231.20" cy="324.70" r="1.15" fill="#1d3d66"/>
<circle cx="231.20" cy="332.80" r="1.15" fill="#1d3d66"/>
<line x1="248.05" y1="303.50" x2="248.05" y2="342.00" stroke="#b3223f" stroke-width="0.9"/>
<line x1="245.45" y1="303.50" x2="250.65" y2="303.50" stroke="#b3223f" stroke-width="0.9"/>
<line x1="245.45" y1="342.00" x2="250.65" y2="342.00" stroke="#b3223f" stroke-width="0.9"/>
<circle cx="248.00" cy="289.00" r="1.15" fill="#b3223f"/>
<circle cx="248.00" cy="317.70" r="1.15" fill="#b3223f"/>
<circle cx="248.00" cy="323.50" r="1.15" fill="#b3223f"/>
<circle cx="248.00" cy="332.20" r="1.15" fill="#b3223f"/>
<circle cx="248.00" cy="336.50" r="1.15" fill="#b3223f"/>
<circle cx="248.00" cy="342.10" r="1.15" fill="#b3223f"/>
<line x1="220.50" y1="275.60" x2="220.50" y2="344.70" stroke="#2b2b2b" stroke-width="1.2"/>
<line x1="217.50" y1="344.20" x2="220.50" y2="344.20" stroke="#2b2b2b" stroke-width="1.05"/>
<text x="214.50" y="346.47" font-size="6.3" text-anchor="end" fill="#3a3a3a" color="#3a3a3a">0</text>
<line x1="217.50" y1="327.20" x2="220.50" y2="327.20" stroke="#2b2b2b" stroke-width="1.05"/>
<text x="214.50" y="329.47" font-size="6.3" text-anchor="end" fill="#3a3a3a" color="#3a3a3a">2</text>
<line x1="217.50" y1="310.20" x2="220.50" y2="310.20" stroke="#2b2b2b" stroke-width="1.05"/>
<text x="214.50" y="312.47" font-size="6.3" text-anchor="end" fill="#3a3a3a" color="#3a3a3a">3</text>
<line x1="217.50" y1="293.30" x2="220.50" y2="293.30" stroke="#2b2b2b" stroke-width="1.05"/>
<text x="214.50" y="295.57" font-size="6.3" text-anchor="end" fill="#3a3a3a" color="#3a3a3a">4</text>
<line x1="217.50" y1="276.40" x2="220.50" y2="276.40" stroke="#2b2b2b" stroke-width="1.05"/>
<text x="214.50" y="278.67" font-size="6.3" text-anchor="end" fill="#3a3a3a" color="#3a3a3a">5</text>
<line x1="217.50" y1="344.20" x2="258.00" y2="344.20" stroke="#2b2b2b" stroke-width="1.2"/>
<line x1="231.00" y1="344.20" x2="231.00" y2="347.00" stroke="#2b2b2b" stroke-width="1.05"/>
<line x1="248.05" y1="344.20" x2="248.05" y2="347.00" stroke="#2b2b2b" stroke-width="1.05"/>
<text x="231.00" y="355.97" font-size="6.3" text-anchor="middle" fill="#3a3a3a" color="#3a3a3a">WT</text>
<text x="248.05" y="355.97" font-size="6.3" text-anchor="middle" fill="#3a3a3a" color="#3a3a3a">CD99</text>
<text x="248.05" y="363.57" font-size="6.3" text-anchor="middle" fill="#3a3a3a" color="#3a3a3a">Gt/Gt</text>
<text class="big" x="239.60" y="268.63" font-size="8.7" text-anchor="middle" textLength="23.50" lengthAdjust="spacingAndGlyphs" fill="#3a3a3a" color="#3a3a3a">HSC #</text>
<text transform="translate(195.50,307.60) rotate(-90)" text-anchor="middle" font-size="7.5" textLength="66.00" lengthAdjust="spacingAndGlyphs" fill="#3a3a3a" color="#3a3a3a">Absolute HSC # (× 10<tspan font-size="4" dy="-2.3">4</tspan><tspan dy="2.3">)</tspan></text>
<text transform="translate(205.10,307.50) rotate(-90)" text-anchor="middle" font-size="7.5" textLength="60.00" lengthAdjust="spacingAndGlyphs" fill="#3a3a3a" color="#3a3a3a">per 2 femurs/2 tibas</text>
<text x="274.00" y="258.60" font-size="10.5" font-weight="bold" fill="#111" color="#111">G</text>
<rect x="315.00" y="298.30" width="13.60" height="46.20" fill="#7a9ec2"/>
<rect x="332.30" y="330.50" width="13.10" height="14.00" fill="#e6909d"/>
<line x1="321.80" y1="286.00" x2="321.80" y2="309.50" stroke="#1d3d66" stroke-width="0.9"/>
<line x1="319.20" y1="286.00" x2="324.40" y2="286.00" stroke="#1d3d66" stroke-width="0.9"/>
<line x1="319.20" y1="309.50" x2="324.40" y2="309.50" stroke="#1d3d66" stroke-width="0.9"/>
<circle cx="321.70" cy="282.30" r="1.15" fill="#1d3d66"/>
<circle cx="318.60" cy="293.70" r="1.15" fill="#1d3d66"/>
<circle cx="324.10" cy="293.70" r="1.15" fill="#1d3d66"/>
<circle cx="319.90" cy="298.60" r="1.15" fill="#1d3d66"/>
<circle cx="325.00" cy="299.20" r="1.15" fill="#1d3d66"/>
<circle cx="322.30" cy="319.20" r="1.15" fill="#1d3d66"/>
<line x1="338.85" y1="322.30" x2="338.85" y2="338.50" stroke="#b3223f" stroke-width="0.9"/>
<line x1="336.25" y1="322.30" x2="341.45" y2="322.30" stroke="#b3223f" stroke-width="0.9"/>
<line x1="336.25" y1="338.50" x2="341.45" y2="338.50" stroke="#b3223f" stroke-width="0.9"/>
<circle cx="338.60" cy="315.90" r="1.15" fill="#b3223f"/>
<circle cx="336.30" cy="330.50" r="1.15" fill="#b3223f"/>
<circle cx="341.40" cy="334.10" r="1.15" fill="#b3223f"/>
<circle cx="336.80" cy="337.70" r="1.15" fill="#b3223f"/>
<circle cx="342.30" cy="338.10" r="1.15" fill="#b3223f"/>
<line x1="311.50" y1="276.00" x2="311.50" y2="345.00" stroke="#2b2b2b" stroke-width="1.2"/>
<line x1="308.50" y1="344.50" x2="311.50" y2="344.50" stroke="#2b2b2b" stroke-width="1.05"/>
<text x="305.50" y="346.77" font-size="6.3" text-anchor="end" fill="#3a3a3a" color="#3a3a3a">0</text>
<line x1="308.50" y1="321.90" x2="311.50" y2="321.90" stroke="#2b2b2b" stroke-width="1.05"/>
<text x="305.50" y="324.17" font-size="6.3" text-anchor="end" fill="#3a3a3a" color="#3a3a3a">0.1</text>
<line x1="308.50" y1="299.30" x2="311.50" y2="299.30" stroke="#2b2b2b" stroke-width="1.05"/>
<text x="305.50" y="301.57" font-size="6.3" text-anchor="end" fill="#3a3a3a" color="#3a3a3a">0.2</text>
<line x1="308.50" y1="276.80" x2="311.50" y2="276.80" stroke="#2b2b2b" stroke-width="1.05"/>
<text x="305.50" y="279.07" font-size="6.3" text-anchor="end" fill="#3a3a3a" color="#3a3a3a">0.3</text>
<line x1="308.50" y1="344.50" x2="347.50" y2="344.50" stroke="#2b2b2b" stroke-width="1.2"/>
<line x1="321.80" y1="344.50" x2="321.80" y2="347.30" stroke="#2b2b2b" stroke-width="1.05"/>
<line x1="338.85" y1="344.50" x2="338.85" y2="347.30" stroke="#2b2b2b" stroke-width="1.05"/>
<text x="321.80" y="355.97" font-size="6.3" text-anchor="middle" fill="#3a3a3a" color="#3a3a3a">WT</text>
<text x="338.85" y="355.97" font-size="6.3" text-anchor="middle" fill="#3a3a3a" color="#3a3a3a">CD99</text>
<text x="338.85" y="363.57" font-size="6.3" text-anchor="middle" fill="#3a3a3a" color="#3a3a3a">Gt/Gt</text>
<text class="big" x="330.80" y="268.63" font-size="8.7" text-anchor="middle" textLength="25.50" lengthAdjust="spacingAndGlyphs" fill="#3a3a3a" color="#3a3a3a">CMP #</text>
<text transform="translate(281.00,307.80) rotate(-90)" text-anchor="middle" font-size="7.5" textLength="68.00" lengthAdjust="spacingAndGlyphs" fill="#3a3a3a" color="#3a3a3a">Absolute CMP # (× 10<tspan font-size="4" dy="-2.3">4</tspan><tspan dy="2.3">)</tspan></text>
<text transform="translate(291.60,308.00) rotate(-90)" text-anchor="middle" font-size="7.5" textLength="61.00" lengthAdjust="spacingAndGlyphs" fill="#3a3a3a" color="#3a3a3a">per 2 femurs/2 tibias</text>
<line x1="321.40" y1="279.50" x2="339.50" y2="279.50" stroke="#222" stroke-width="1.0"/>
<text x="330.45" y="278.58" font-size="5.5" text-anchor="middle" font-weight="bold" fill="#222" color="#222">*</text>
<rect x="397.40" y="305.90" width="13.10" height="38.40" fill="#7a9ec2"/>
<rect x="413.70" y="335.90" width="14.00" height="8.40" fill="#e6909d"/>
<line x1="403.95" y1="292.30" x2="403.95" y2="319.20" stroke="#1d3d66" stroke-width="0.9"/>
<line x1="401.35" y1="292.30" x2="406.55" y2="292.30" stroke="#1d3d66" stroke-width="0.9"/>
<line x1="401.35" y1="319.20" x2="406.55" y2="319.20" stroke="#1d3d66" stroke-width="0.9"/>
<circle cx="403.50" cy="288.60" r="1.15" fill="#1d3d66"/>
<circle cx="401.00" cy="302.30" r="1.15" fill="#1d3d66"/>
<circle cx="404.10" cy="298.60" r="1.15" fill="#1d3d66"/>
<circle cx="406.80" cy="302.30" r="1.15" fill="#1d3d66"/>
<circle cx="403.50" cy="325.00" r="1.15" fill="#1d3d66"/>
<line x1="420.70" y1="330.50" x2="420.70" y2="341.00" stroke="#b3223f" stroke-width="0.9"/>
<line x1="418.10" y1="330.50" x2="423.30" y2="330.50" stroke="#b3223f" stroke-width="0.9"/>
<line x1="418.10" y1="341.00" x2="423.30" y2="341.00" stroke="#b3223f" stroke-width="0.9"/>
<circle cx="414.50" cy="332.80" r="1.15" fill="#b3223f"/>
<circle cx="418.10" cy="331.90" r="1.15" fill="#b3223f"/>
<circle cx="423.50" cy="331.90" r="1.15" fill="#b3223f"/>
<circle cx="416.80" cy="341.40" r="1.15" fill="#b3223f"/>
<circle cx="421.40" cy="341.40" r="1.15" fill="#b3223f"/>
<line x1="393.50" y1="276.02" x2="393.50" y2="344.80" stroke="#2b2b2b" stroke-width="1.2"/>
<line x1="390.50" y1="344.30" x2="393.50" y2="344.30" stroke="#2b2b2b" stroke-width="1.05"/>
<text x="387.50" y="346.57" font-size="6.3" text-anchor="end" fill="#3a3a3a" color="#3a3a3a">0</text>
<line x1="390.50" y1="327.43" x2="393.50" y2="327.43" stroke="#2b2b2b" stroke-width="1.05"/>
<text x="387.50" y="329.70" font-size="6.3" text-anchor="end" fill="#3a3a3a" color="#3a3a3a">0.1</text>
<line x1="390.50" y1="310.56" x2="393.50" y2="310.56" stroke="#2b2b2b" stroke-width="1.05"/>
<text x="387.50" y="312.83" font-size="6.3" text-anchor="end" fill="#3a3a3a" color="#3a3a3a">0.2</text>
<line x1="390.50" y1="293.69" x2="393.50" y2="293.69" stroke="#2b2b2b" stroke-width="1.05"/>
<text x="387.50" y="295.96" font-size="6.3" text-anchor="end" fill="#3a3a3a" color="#3a3a3a">0.3</text>
<line x1="390.50" y1="276.82" x2="393.50" y2="276.82" stroke="#2b2b2b" stroke-width="1.05"/>
<text x="387.50" y="279.09" font-size="6.3" text-anchor="end" fill="#3a3a3a" color="#3a3a3a">0.4</text>
<line x1="390.50" y1="344.30" x2="429.00" y2="344.30" stroke="#2b2b2b" stroke-width="1.2"/>
<line x1="403.95" y1="344.30" x2="403.95" y2="347.10" stroke="#2b2b2b" stroke-width="1.05"/>
<line x1="420.70" y1="344.30" x2="420.70" y2="347.10" stroke="#2b2b2b" stroke-width="1.05"/>
<text x="403.95" y="355.97" font-size="6.3" text-anchor="middle" fill="#3a3a3a" color="#3a3a3a">WT</text>
<text x="420.70" y="355.97" font-size="6.3" text-anchor="middle" fill="#3a3a3a" color="#3a3a3a">CD99</text>
<text x="420.70" y="363.57" font-size="6.3" text-anchor="middle" fill="#3a3a3a" color="#3a3a3a">Gt/Gt</text>
<text class="big" x="411.90" y="268.63" font-size="8.7" text-anchor="middle" textLength="25.50" lengthAdjust="spacingAndGlyphs" fill="#3a3a3a" color="#3a3a3a">GMP #</text>
<text transform="translate(363.20,307.20) rotate(-90)" text-anchor="middle" font-size="7.5" textLength="68.00" lengthAdjust="spacingAndGlyphs" fill="#3a3a3a" color="#3a3a3a">Absolute GMP # (× 10<tspan font-size="4" dy="-2.3">4</tspan><tspan dy="2.3">)</tspan></text>
<text transform="translate(373.20,307.20) rotate(-90)" text-anchor="middle" font-size="7.5" textLength="61.00" lengthAdjust="spacingAndGlyphs" fill="#3a3a3a" color="#3a3a3a">per 2 femurs/2 tibias</text>
<line x1="403.20" y1="283.50" x2="419.50" y2="283.50" stroke="#222" stroke-width="1.0"/>
<text x="411.35" y="283.28" font-size="5.5" text-anchor="middle" font-weight="bold" fill="#222" color="#222">**</text>
<rect x="478.60" y="307.40" width="13.70" height="36.90" fill="#7a9ec2"/>
<rect x="495.90" y="333.70" width="13.60" height="10.60" fill="#e6909d"/>
<line x1="485.45" y1="290.00" x2="485.45" y2="324.00" stroke="#1d3d66" stroke-width="0.9"/>
<line x1="482.85" y1="290.00" x2="488.05" y2="290.00" stroke="#1d3d66" stroke-width="0.9"/>
<line x1="482.85" y1="324.00" x2="488.05" y2="324.00" stroke="#1d3d66" stroke-width="0.9"/>
<circle cx="485.40" cy="286.50" r="1.15" fill="#1d3d66"/>
<circle cx="482.80" cy="295.90" r="1.15" fill="#1d3d66"/>
<circle cx="487.70" cy="296.80" r="1.15" fill="#1d3d66"/>
<circle cx="485.40" cy="312.30" r="1.15" fill="#1d3d66"/>
<circle cx="485.40" cy="329.20" r="1.15" fill="#1d3d66"/>
<line x1="502.70" y1="325.00" x2="502.70" y2="340.00" stroke="#b3223f" stroke-width="0.9"/>
<line x1="500.10" y1="325.00" x2="505.30" y2="325.00" stroke="#b3223f" stroke-width="0.9"/>
<line x1="500.10" y1="340.00" x2="505.30" y2="340.00" stroke="#b3223f" stroke-width="0.9"/>
<circle cx="502.30" cy="319.20" r="1.15" fill="#b3223f"/>
<circle cx="499.50" cy="330.50" r="1.15" fill="#b3223f"/>
<circle cx="505.00" cy="333.70" r="1.15" fill="#b3223f"/>
<circle cx="501.40" cy="341.40" r="1.15" fill="#b3223f"/>
<line x1="474.90" y1="276.02" x2="474.90" y2="344.80" stroke="#2b2b2b" stroke-width="1.2"/>
<line x1="471.90" y1="344.30" x2="474.90" y2="344.30" stroke="#2b2b2b" stroke-width="1.05"/>
<text x="468.90" y="346.57" font-size="6.3" text-anchor="end" fill="#3a3a3a" color="#3a3a3a">0</text>
<line x1="471.90" y1="327.43" x2="474.90" y2="327.43" stroke="#2b2b2b" stroke-width="1.05"/>
<text x="468.90" y="329.70" font-size="6.3" text-anchor="end" fill="#3a3a3a" color="#3a3a3a">0.1</text>
<line x1="471.90" y1="310.56" x2="474.90" y2="310.56" stroke="#2b2b2b" stroke-width="1.05"/>
<text x="468.90" y="312.83" font-size="6.3" text-anchor="end" fill="#3a3a3a" color="#3a3a3a">0.2</text>
<line x1="471.90" y1="293.69" x2="474.90" y2="293.69" stroke="#2b2b2b" stroke-width="1.05"/>
<text x="468.90" y="295.96" font-size="6.3" text-anchor="end" fill="#3a3a3a" color="#3a3a3a">0.3</text>
<line x1="471.90" y1="276.82" x2="474.90" y2="276.82" stroke="#2b2b2b" stroke-width="1.05"/>
<text x="468.90" y="279.09" font-size="6.3" text-anchor="end" fill="#3a3a3a" color="#3a3a3a">0.4</text>
<line x1="471.90" y1="344.30" x2="512.00" y2="344.30" stroke="#2b2b2b" stroke-width="1.2"/>
<line x1="485.45" y1="344.30" x2="485.45" y2="347.10" stroke="#2b2b2b" stroke-width="1.05"/>
<line x1="502.70" y1="344.30" x2="502.70" y2="347.10" stroke="#2b2b2b" stroke-width="1.05"/>
<text x="485.45" y="355.97" font-size="6.3" text-anchor="middle" fill="#3a3a3a" color="#3a3a3a">WT</text>
<text x="502.70" y="355.97" font-size="6.3" text-anchor="middle" fill="#3a3a3a" color="#3a3a3a">CD99</text>
<text x="502.70" y="363.57" font-size="6.3" text-anchor="middle" fill="#3a3a3a" color="#3a3a3a">Gt/Gt</text>
<text class="big" x="493.70" y="268.63" font-size="8.7" text-anchor="middle" textLength="24.20" lengthAdjust="spacingAndGlyphs" fill="#3a3a3a" color="#3a3a3a">MEP #</text>
<text transform="translate(444.40,307.20) rotate(-90)" text-anchor="middle" font-size="7.5" textLength="68.00" lengthAdjust="spacingAndGlyphs" fill="#3a3a3a" color="#3a3a3a">Absolute MEP # (× 10<tspan font-size="4" dy="-2.3">4</tspan><tspan dy="2.3">)</tspan></text>
<text transform="translate(454.60,307.20) rotate(-90)" text-anchor="middle" font-size="7.5" textLength="61.00" lengthAdjust="spacingAndGlyphs" fill="#3a3a3a" color="#3a3a3a">per 2 femurs/2 tibias</text>
<line x1="485.00" y1="280.50" x2="501.00" y2="280.50" stroke="#222" stroke-width="1.0"/>
<text x="493.00" y="280.08" font-size="5.5" text-anchor="middle" font-weight="bold" fill="#222" color="#222">*</text>
<text x="7.00" y="383.50" font-size="10.5" font-weight="bold" fill="#111" color="#111">H</text>
<text class="big" x="57.50" y="385.26" font-size="9.6" textLength="100.00" lengthAdjust="spacingAndGlyphs" fill="#3a3a3a" color="#3a3a3a">Secondary Transplantation</text>
<text x="18.75" y="402.38" font-size="6.6" textLength="78.75" lengthAdjust="spacingAndGlyphs" fill="#3a3a3a" color="#3a3a3a">Primary HSC Recipient Mice</text>
<path d="M50.88,420.10 Q41.88,420.58 35.00,417.94" fill="none" stroke="#d9d5d4" stroke-width="1.44" stroke-linecap="round"/>
<path d="M48.75,417.94 C48.75,414.10 51.94,410.74 56.83,410.50 C59.38,410.38 61.50,410.86 62.77,411.70 C64.05,411.94 65.33,411.94 66.17,412.90 C67.88,414.70 69.36,417.10 70.00,419.14 C69.58,420.10 67.88,420.58 65.75,420.70 C63.62,422.26 58.31,422.74 53.00,422.26 C50.45,421.90 48.75,420.10 48.75,417.94 Z" fill="#403c3a"/>
<ellipse cx="55.12" cy="417.10" rx="4.25" ry="3.60" fill="#6e6a66" opacity="0.5"/>
<ellipse cx="65.33" cy="417.10" rx="2.98" ry="3.00" fill="#2a2420" opacity="0.8"/>
<ellipse cx="66.17" cy="411.70" rx="0.74" ry="1.20" fill="#8d8580"/>
<ellipse cx="61.92" cy="414.46" rx="1.66" ry="2.40" fill="#d4c2b0"/>
<ellipse cx="56.19" cy="422.14" rx="1.49" ry="0.60" fill="#c9beb8"/>
<ellipse cx="64.05" cy="421.66" rx="1.06" ry="0.60" fill="#b9aea8"/>
<text x="71.75" y="415.38" font-size="6.6" textLength="46.00" lengthAdjust="spacingAndGlyphs" fill="#3a3a3a" color="#3a3a3a">2 × 10<tspan font-size="4" dy="-2.3">6</tspan><tspan dy="2.3"> BM cells</tspan></text>
<line x1="71.25" y1="419.30" x2="122.50" y2="419.30" stroke="#1a1a1a" stroke-width="1.3"/>
<polygon points="120.50,416.70 126.50,419.30 120.50,421.90 121.90,419.30" fill="#1a1a1a"/>
<polygon points="142.50,397.30 149.30,396.75 149.50,401.70 151.10,402.80 152.50,410.50 147.70,405.55 147.50,403.90 145.50,402.94" fill="#f0e52c" stroke="#6b6420" stroke-width="0.4" stroke-linejoin="round"/>
<polyline points="142.50,397.30 145.50,402.94 147.50,403.90 147.70,405.55 152.50,410.50" fill="none" stroke="#1c1c1c" stroke-width="1.1" stroke-linejoin="round"/>
<text x="153.00" y="409.13" font-size="6.6" textLength="36.50" lengthAdjust="spacingAndGlyphs" fill="#3a3a3a" color="#3a3a3a">WT (CD45.2)</text>
<path d="M152.00,420.10 Q143.12,420.58 136.25,417.94" fill="none" stroke="#d9d5d4" stroke-width="1.44" stroke-linecap="round"/>
<path d="M150.00,417.94 C150.00,414.10 153.00,410.74 157.60,410.50 C160.00,410.38 162.00,410.86 163.20,411.70 C164.40,411.94 165.60,411.94 166.40,412.90 C168.00,414.70 169.40,417.10 170.00,419.14 C169.60,420.10 168.00,420.58 166.00,420.70 C164.00,422.26 159.00,422.74 154.00,422.26 C151.60,421.90 150.00,420.10 150.00,417.94 Z" fill="#403c3a"/>
<ellipse cx="156.00" cy="417.10" rx="4.00" ry="3.60" fill="#6e6a66" opacity="0.5"/>
<ellipse cx="165.60" cy="417.10" rx="2.80" ry="3.00" fill="#2a2420" opacity="0.8"/>
<ellipse cx="166.40" cy="411.70" rx="0.70" ry="1.20" fill="#8d8580"/>
<ellipse cx="162.40" cy="414.46" rx="1.56" ry="2.40" fill="#d4c2b0"/>
<ellipse cx="157.00" cy="422.14" rx="1.40" ry="0.60" fill="#c9beb8"/>
<ellipse cx="164.40" cy="421.66" rx="1.00" ry="0.60" fill="#b9aea8"/>
<text class="big" x="107.55" y="445.52" font-size="8.4" text-anchor="middle" textLength="17.60" lengthAdjust="spacingAndGlyphs" fill="#3a3a3a" color="#3a3a3a">Total</text>
<line x1="53.30" y1="452.50" x2="53.30" y2="524.90" stroke="#2b2b2b" stroke-width="1.2"/>
<line x1="50.30" y1="524.40" x2="53.30" y2="524.40" stroke="#2b2b2b" stroke-width="1.05"/>
<text x="47.30" y="526.67" font-size="6.3" text-anchor="end" fill="#3a3a3a" color="#3a3a3a">0</text>
<line x1="50.30" y1="510.20" x2="53.30" y2="510.20" stroke="#2b2b2b" stroke-width="1.05"/>
<text x="47.30" y="512.47" font-size="6.3" text-anchor="end" fill="#3a3a3a" color="#3a3a3a">20</text>
<line x1="50.30" y1="496.00" x2="53.30" y2="496.00" stroke="#2b2b2b" stroke-width="1.05"/>
<text x="47.30" y="498.27" font-size="6.3" text-anchor="end" fill="#3a3a3a" color="#3a3a3a">40</text>
<line x1="50.30" y1="481.80" x2="53.30" y2="481.80" stroke="#2b2b2b" stroke-width="1.05"/>
<text x="47.30" y="484.07" font-size="6.3" text-anchor="end" fill="#3a3a3a" color="#3a3a3a">60</text>
<line x1="50.30" y1="467.60" x2="53.30" y2="467.60" stroke="#2b2b2b" stroke-width="1.05"/>
<text x="47.30" y="469.87" font-size="6.3" text-anchor="end" fill="#3a3a3a" color="#3a3a3a">80</text>
<line x1="50.30" y1="453.40" x2="53.30" y2="453.40" stroke="#2b2b2b" stroke-width="1.05"/>
<text x="47.30" y="455.67" font-size="6.3" text-anchor="end" fill="#3a3a3a" color="#3a3a3a">100</text>
<line x1="50.30" y1="524.40" x2="161.50" y2="524.40" stroke="#2b2b2b" stroke-width="1.2"/>
<line x1="53.30" y1="524.40" x2="53.30" y2="527.20" stroke="#2b2b2b" stroke-width="1.05"/>
<text x="53.30" y="536.27" font-size="6.3" text-anchor="middle" fill="#3a3a3a" color="#3a3a3a">0</text>
<line x1="74.50" y1="524.40" x2="74.50" y2="527.20" stroke="#2b2b2b" stroke-width="1.05"/>
<text x="74.50" y="536.27" font-size="6.3" text-anchor="middle" fill="#3a3a3a" color="#3a3a3a">5</text>
<line x1="95.70" y1="524.40" x2="95.70" y2="527.20" stroke="#2b2b2b" stroke-width="1.05"/>
<text x="95.70" y="536.27" font-size="6.3" text-anchor="middle" fill="#3a3a3a" color="#3a3a3a">10</text>
<line x1="116.90" y1="524.40" x2="116.90" y2="527.20" stroke="#2b2b2b" stroke-width="1.05"/>
<text x="116.90" y="536.27" font-size="6.3" text-anchor="middle" fill="#3a3a3a" color="#3a3a3a">15</text>
<line x1="138.10" y1="524.40" x2="138.10" y2="527.20" stroke="#2b2b2b" stroke-width="1.05"/>
<text x="138.10" y="536.27" font-size="6.3" text-anchor="middle" fill="#3a3a3a" color="#3a3a3a">20</text>
<line x1="159.30" y1="524.40" x2="159.30" y2="527.20" stroke="#2b2b2b" stroke-width="1.05"/>
<text x="159.30" y="536.27" font-size="6.3" text-anchor="middle" fill="#3a3a3a" color="#3a3a3a">25</text>
<text class="big" x="106.00" y="549.18" font-size="8" text-anchor="middle" textLength="19.00" lengthAdjust="spacingAndGlyphs" fill="#3a3a3a" color="#3a3a3a">Weeks</text>
<text transform="translate(31.41,486.40) rotate(-90)" text-anchor="middle" font-size="7.8" textLength="49.50" lengthAdjust="spacingAndGlyphs" fill="#3a3a3a" color="#3a3a3a">% Donor derived</text>
<line x1="87.10" y1="516.00" x2="87.10" y2="522.20" stroke="#cc5472" stroke-width="0.85"/>
<line x1="85.30" y1="516.00" x2="88.90" y2="516.00" stroke="#cc5472" stroke-width="0.85"/>
<line x1="85.30" y1="522.20" x2="88.90" y2="522.20" stroke="#cc5472" stroke-width="0.85"/>
<line x1="104.00" y1="514.50" x2="104.00" y2="521.00" stroke="#cc5472" stroke-width="0.85"/>
<line x1="102.20" y1="514.50" x2="105.80" y2="514.50" stroke="#cc5472" stroke-width="0.85"/>
<line x1="102.20" y1="521.00" x2="105.80" y2="521.00" stroke="#cc5472" stroke-width="0.85"/>
<line x1="150.70" y1="516.50" x2="150.70" y2="522.00" stroke="#cc5472" stroke-width="0.85"/>
<line x1="148.90" y1="516.50" x2="152.50" y2="516.50" stroke="#cc5472" stroke-width="0.85"/>
<line x1="148.90" y1="522.00" x2="152.50" y2="522.00" stroke="#cc5472" stroke-width="0.85"/>
<polyline points="87.10,519.20 104.00,517.70 150.70,519.20" fill="none" stroke="#c43252" stroke-width="1.0"/>
<circle cx="87.10" cy="519.20" r="1.35" fill="#9a1a3a"/>
<circle cx="104.00" cy="517.70" r="1.35" fill="#9a1a3a"/>
<circle cx="150.70" cy="519.20" r="1.35" fill="#9a1a3a"/>
<line x1="87.10" y1="496.00" x2="87.10" y2="510.50" stroke="#4a6f9a" stroke-width="0.85"/>
<line x1="85.30" y1="496.00" x2="88.90" y2="496.00" stroke="#4a6f9a" stroke-width="0.85"/>
<line x1="85.30" y1="510.50" x2="88.90" y2="510.50" stroke="#4a6f9a" stroke-width="0.85"/>
<line x1="104.00" y1="491.50" x2="104.00" y2="508.00" stroke="#4a6f9a" stroke-width="0.85"/>
<line x1="102.20" y1="491.50" x2="105.80" y2="491.50" stroke="#4a6f9a" stroke-width="0.85"/>
<line x1="102.20" y1="508.00" x2="105.80" y2="508.00" stroke="#4a6f9a" stroke-width="0.85"/>
<line x1="150.70" y1="494.00" x2="150.70" y2="509.00" stroke="#4a6f9a" stroke-width="0.85"/>
<line x1="148.90" y1="494.00" x2="152.50" y2="494.00" stroke="#4a6f9a" stroke-width="0.85"/>
<line x1="148.90" y1="509.00" x2="152.50" y2="509.00" stroke="#4a6f9a" stroke-width="0.85"/>
<polyline points="87.10,503.20 104.00,499.80 150.70,501.70" fill="none" stroke="#2d62a0" stroke-width="1.0"/>
<circle cx="87.10" cy="503.20" r="1.35" fill="#1c3558"/>
<circle cx="104.00" cy="499.80" r="1.35" fill="#1c3558"/>
<circle cx="150.70" cy="501.70" r="1.35" fill="#1c3558"/>
<text x="104.00" y="489.77" font-size="6.3" text-anchor="middle" font-weight="bold" fill="#222" color="#222">*</text>
<text x="150.50" y="491.77" font-size="6.3" text-anchor="middle" font-weight="bold" fill="#222" color="#222">*</text>
<line x1="112.30" y1="460.30" x2="121.20" y2="460.30" stroke="#2d62a0" stroke-width="1.0"/>
<circle cx="116.75" cy="460.30" r="1.2" fill="#1c3558"/>
<line x1="112.30" y1="470.20" x2="121.20" y2="470.20" stroke="#c43252" stroke-width="1.0"/>
<circle cx="116.75" cy="470.20" r="1.2" fill="#9a1a3a"/>
<text x="124.20" y="462.64" font-size="6.5" textLength="9.00" lengthAdjust="spacingAndGlyphs" fill="#3a3a3a" color="#3a3a3a">WT</text>
<text x="124.20" y="472.54" font-size="6.5" textLength="34.50" lengthAdjust="spacingAndGlyphs" fill="#3a3a3a" color="#3a3a3a">CD99 Gt/Gt</text>
<text x="208.25" y="383.50" font-size="10.5" font-weight="bold" fill="#111" color="#111">I</text>
<text class="big" x="260.00" y="385.26" font-size="9.6" textLength="170.50" lengthAdjust="spacingAndGlyphs" fill="#3a3a3a" color="#3a3a3a">Unfractionated Bone Marrow Transplantation</text>
<text x="250.00" y="395.38" font-size="6.6" text-anchor="middle" textLength="35.50" lengthAdjust="spacingAndGlyphs" fill="#3a3a3a" color="#3a3a3a">CD99 Gt/Gt</text>
<text x="250.00" y="402.38" font-size="6.6" text-anchor="middle" fill="#3a3a3a" color="#3a3a3a">or</text>
<text x="250.00" y="409.88" font-size="6.6" text-anchor="middle" fill="#3a3a3a" color="#3a3a3a">WT</text>
<text x="250.00" y="417.38" font-size="6.6" text-anchor="middle" textLength="27.00" lengthAdjust="spacingAndGlyphs" fill="#3a3a3a" color="#3a3a3a">(CD45.1)</text>
<path d="M243.50,429.46 Q234.45,429.95 227.50,427.26" fill="none" stroke="#d9d5d4" stroke-width="1.46" stroke-linecap="round"/>
<path d="M241.40,427.26 C241.40,423.36 244.55,419.94 249.38,419.70 C251.90,419.58 254.00,420.07 255.26,420.92 C256.52,421.16 257.78,421.16 258.62,422.14 C260.30,423.97 261.77,426.41 262.40,428.48 C261.98,429.46 260.30,429.95 258.20,430.07 C256.10,431.66 250.85,432.14 245.60,431.66 C243.08,431.29 241.40,429.46 241.40,427.26 Z" fill="#403c3a"/>
<ellipse cx="247.70" cy="426.41" rx="4.20" ry="3.66" fill="#6e6a66" opacity="0.5"/>
<ellipse cx="257.78" cy="426.41" rx="2.94" ry="3.05" fill="#2a2420" opacity="0.8"/>
<ellipse cx="258.62" cy="420.92" rx="0.73" ry="1.22" fill="#8d8580"/>
<ellipse cx="254.42" cy="423.73" rx="1.64" ry="2.44" fill="#d4c2b0"/>
<ellipse cx="248.75" cy="431.53" rx="1.47" ry="0.61" fill="#c9beb8"/>
<ellipse cx="256.52" cy="431.05" rx="1.05" ry="0.61" fill="#b9aea8"/>
<text x="263.75" y="424.13" font-size="6.6" textLength="46.25" lengthAdjust="spacingAndGlyphs" fill="#3a3a3a" color="#3a3a3a">2 × 10<tspan font-size="4" dy="-2.3">6</tspan><tspan dy="2.3"> BM cells</tspan></text>
<line x1="263.75" y1="428.00" x2="315.00" y2="428.00" stroke="#1a1a1a" stroke-width="1.3"/>
<polygon points="313.00,425.40 319.00,428.00 313.00,430.60 314.40,428.00" fill="#1a1a1a"/>
<text x="309.50" y="402.38" font-size="6.6" textLength="65.00" lengthAdjust="spacingAndGlyphs" fill="#3a3a3a" color="#3a3a3a">Primary Recipient Mice</text>
<polygon points="326.40,406.86 333.00,406.30 333.19,411.34 334.74,412.46 336.10,420.30 331.44,415.26 331.25,413.58 329.31,412.60" fill="#f0e52c" stroke="#6b6420" stroke-width="0.4" stroke-linejoin="round"/>
<polyline points="326.40,406.86 329.31,412.60 331.25,413.58 331.44,415.26 336.10,420.30" fill="none" stroke="#1c1c1c" stroke-width="1.1" stroke-linejoin="round"/>
<text x="337.50" y="416.13" font-size="6.6" textLength="36.25" lengthAdjust="spacingAndGlyphs" fill="#3a3a3a" color="#3a3a3a">WT (CD45.2)</text>
<path d="M336.23,429.10 Q327.10,429.56 320.00,427.03" fill="none" stroke="#d9d5d4" stroke-width="1.38" stroke-linecap="round"/>
<path d="M334.20,427.03 C334.20,423.35 337.25,420.13 341.91,419.90 C344.35,419.78 346.38,420.25 347.60,421.05 C348.82,421.28 350.03,421.28 350.85,422.20 C352.47,423.92 353.89,426.22 354.50,428.18 C354.09,429.10 352.47,429.56 350.44,429.67 C348.41,431.17 343.33,431.63 338.26,431.17 C335.82,430.82 334.20,429.10 334.20,427.03 Z" fill="#403c3a"/>
<ellipse cx="340.29" cy="426.22" rx="4.06" ry="3.45" fill="#6e6a66" opacity="0.5"/>
<ellipse cx="350.03" cy="426.22" rx="2.84" ry="2.88" fill="#2a2420" opacity="0.8"/>
<ellipse cx="350.85" cy="421.05" rx="0.71" ry="1.15" fill="#8d8580"/>
<ellipse cx="346.79" cy="423.69" rx="1.58" ry="2.30" fill="#d4c2b0"/>
<ellipse cx="341.31" cy="431.05" rx="1.42" ry="0.58" fill="#c9beb8"/>
<ellipse cx="348.82" cy="430.59" rx="1.02" ry="0.58" fill="#b9aea8"/>
<text x="357.00" y="423.63" font-size="6.6" textLength="46.00" lengthAdjust="spacingAndGlyphs" fill="#3a3a3a" color="#3a3a3a">4 × 10<tspan font-size="4" dy="-2.3">6</tspan><tspan dy="2.3"> BM cells</tspan></text>
<line x1="357.00" y1="428.00" x2="407.50" y2="428.00" stroke="#1a1a1a" stroke-width="1.3"/>
<polygon points="405.50,425.40 411.50,428.00 405.50,430.60 406.90,428.00" fill="#1a1a1a"/>
<text x="400.50" y="402.13" font-size="6.6" textLength="73.75" lengthAdjust="spacingAndGlyphs" fill="#3a3a3a" color="#3a3a3a">Secondary Recipient Mice</text>
<polygon points="422.50,405.57 428.45,405.00 428.62,410.13 430.02,411.27 431.25,419.25 427.05,414.12 426.88,412.41 425.12,411.41" fill="#f0e52c" stroke="#6b6420" stroke-width="0.4" stroke-linejoin="round"/>
<polyline points="422.50,405.57 425.12,411.41 426.88,412.41 427.05,414.12 431.25,419.25" fill="none" stroke="#1c1c1c" stroke-width="1.1" stroke-linejoin="round"/>
<text x="433.75" y="416.13" font-size="6.6" textLength="36.75" lengthAdjust="spacingAndGlyphs" fill="#3a3a3a" color="#3a3a3a">WT (CD45.2)</text>
<path d="M431.93,428.18 Q421.82,428.64 413.75,426.09" fill="none" stroke="#d9d5d4" stroke-width="1.39" stroke-linecap="round"/>
<path d="M429.90,426.09 C429.90,422.38 432.94,419.13 437.61,418.90 C440.05,418.78 442.08,419.25 443.30,420.06 C444.52,420.29 445.73,420.29 446.55,421.22 C448.17,422.96 449.59,425.28 450.20,427.25 C449.79,428.18 448.17,428.64 446.14,428.76 C444.11,430.27 439.03,430.73 433.96,430.27 C431.52,429.92 429.90,428.18 429.90,426.09 Z" fill="#403c3a"/>
<ellipse cx="435.99" cy="425.28" rx="4.06" ry="3.48" fill="#6e6a66" opacity="0.5"/>
<ellipse cx="445.73" cy="425.28" rx="2.84" ry="2.90" fill="#2a2420" opacity="0.8"/>
<ellipse cx="446.55" cy="420.06" rx="0.71" ry="1.16" fill="#8d8580"/>
<ellipse cx="442.49" cy="422.73" rx="1.58" ry="2.32" fill="#d4c2b0"/>
<ellipse cx="437.00" cy="430.15" rx="1.42" ry="0.58" fill="#c9beb8"/>
<ellipse cx="444.52" cy="429.69" rx="1.02" ry="0.58" fill="#b9aea8"/>
<text class="big" x="282.15" y="445.02" font-size="8.4" text-anchor="middle" textLength="17.90" lengthAdjust="spacingAndGlyphs" fill="#3a3a3a" color="#3a3a3a">Total</text>
<line x1="234.10" y1="452.50" x2="234.10" y2="524.90" stroke="#2b2b2b" stroke-width="1.2"/>
<line x1="231.10" y1="524.40" x2="234.10" y2="524.40" stroke="#2b2b2b" stroke-width="1.05"/>
<text x="228.10" y="526.67" font-size="6.3" text-anchor="end" fill="#3a3a3a" color="#3a3a3a">0</text>
<line x1="231.10" y1="510.20" x2="234.10" y2="510.20" stroke="#2b2b2b" stroke-width="1.05"/>
<text x="228.10" y="512.47" font-size="6.3" text-anchor="end" fill="#3a3a3a" color="#3a3a3a">20</text>
<line x1="231.10" y1="496.00" x2="234.10" y2="496.00" stroke="#2b2b2b" stroke-width="1.05"/>
<text x="228.10" y="498.27" font-size="6.3" text-anchor="end" fill="#3a3a3a" color="#3a3a3a">40</text>
<line x1="231.10" y1="481.80" x2="234.10" y2="481.80" stroke="#2b2b2b" stroke-width="1.05"/>
<text x="228.10" y="484.07" font-size="6.3" text-anchor="end" fill="#3a3a3a" color="#3a3a3a">60</text>
<line x1="231.10" y1="467.60" x2="234.10" y2="467.60" stroke="#2b2b2b" stroke-width="1.05"/>
<text x="228.10" y="469.87" font-size="6.3" text-anchor="end" fill="#3a3a3a" color="#3a3a3a">80</text>
<line x1="231.10" y1="453.40" x2="234.10" y2="453.40" stroke="#2b2b2b" stroke-width="1.05"/>
<text x="228.10" y="455.67" font-size="6.3" text-anchor="end" fill="#3a3a3a" color="#3a3a3a">100</text>
<line x1="231.10" y1="524.40" x2="329.00" y2="524.40" stroke="#2b2b2b" stroke-width="1.2"/>
<line x1="241.80" y1="524.40" x2="241.80" y2="527.20" stroke="#2b2b2b" stroke-width="1.05"/>
<text x="241.80" y="535.97" font-size="6.3" text-anchor="middle" fill="#3a3a3a" color="#3a3a3a">6</text>
<line x1="257.80" y1="524.40" x2="257.80" y2="527.20" stroke="#2b2b2b" stroke-width="1.05"/>
<text x="257.80" y="535.97" font-size="6.3" text-anchor="middle" fill="#3a3a3a" color="#3a3a3a">10</text>
<line x1="273.80" y1="524.40" x2="273.80" y2="527.20" stroke="#2b2b2b" stroke-width="1.05"/>
<text x="273.80" y="535.97" font-size="6.3" text-anchor="middle" fill="#3a3a3a" color="#3a3a3a">14</text>
<line x1="289.80" y1="524.40" x2="289.80" y2="527.20" stroke="#2b2b2b" stroke-width="1.05"/>
<text x="289.80" y="535.97" font-size="6.3" text-anchor="middle" fill="#3a3a3a" color="#3a3a3a">18</text>
<line x1="305.80" y1="524.40" x2="305.80" y2="527.20" stroke="#2b2b2b" stroke-width="1.05"/>
<text x="305.80" y="535.97" font-size="6.3" text-anchor="middle" fill="#3a3a3a" color="#3a3a3a">22</text>
<line x1="321.80" y1="524.40" x2="321.80" y2="527.20" stroke="#2b2b2b" stroke-width="1.05"/>
<text x="321.80" y="535.97" font-size="6.3" text-anchor="middle" fill="#3a3a3a" color="#3a3a3a">28</text>
<text class="big" x="282.50" y="549.18" font-size="8" text-anchor="middle" textLength="19.00" lengthAdjust="spacingAndGlyphs" fill="#3a3a3a" color="#3a3a3a">Weeks</text>
<text transform="translate(212.31,486.70) rotate(-90)" text-anchor="middle" font-size="7.8" textLength="49.50" lengthAdjust="spacingAndGlyphs" fill="#3a3a3a" color="#3a3a3a">% Donor derived</text>
<line x1="241.80" y1="469.50" x2="241.80" y2="472.50" stroke="#cc5472" stroke-width="0.85"/>
<line x1="240.00" y1="469.50" x2="243.60" y2="469.50" stroke="#cc5472" stroke-width="0.85"/>
<line x1="240.00" y1="472.50" x2="243.60" y2="472.50" stroke="#cc5472" stroke-width="0.85"/>
<line x1="257.80" y1="458.00" x2="257.80" y2="461.50" stroke="#cc5472" stroke-width="0.85"/>
<line x1="256.00" y1="458.00" x2="259.60" y2="458.00" stroke="#cc5472" stroke-width="0.85"/>
<line x1="256.00" y1="461.50" x2="259.60" y2="461.50" stroke="#cc5472" stroke-width="0.85"/>
<line x1="273.80" y1="457.50" x2="273.80" y2="461.20" stroke="#cc5472" stroke-width="0.85"/>
<line x1="272.00" y1="457.50" x2="275.60" y2="457.50" stroke="#cc5472" stroke-width="0.85"/>
<line x1="272.00" y1="461.20" x2="275.60" y2="461.20" stroke="#cc5472" stroke-width="0.85"/>
<line x1="289.80" y1="456.80" x2="289.80" y2="460.30" stroke="#cc5472" stroke-width="0.85"/>
<line x1="288.00" y1="456.80" x2="291.60" y2="456.80" stroke="#cc5472" stroke-width="0.85"/>
<line x1="288.00" y1="460.30" x2="291.60" y2="460.30" stroke="#cc5472" stroke-width="0.85"/>
<line x1="305.80" y1="456.80" x2="305.80" y2="460.30" stroke="#cc5472" stroke-width="0.85"/>
<line x1="304.00" y1="456.80" x2="307.60" y2="456.80" stroke="#cc5472" stroke-width="0.85"/>
<line x1="304.00" y1="460.30" x2="307.60" y2="460.30" stroke="#cc5472" stroke-width="0.85"/>
<line x1="321.80" y1="455.50" x2="321.80" y2="458.50" stroke="#cc5472" stroke-width="0.85"/>
<line x1="320.00" y1="455.50" x2="323.60" y2="455.50" stroke="#cc5472" stroke-width="0.85"/>
<line x1="320.00" y1="458.50" x2="323.60" y2="458.50" stroke="#cc5472" stroke-width="0.85"/>
<polyline points="241.80,471.00 257.80,459.80 273.80,459.50 289.80,458.60 305.80,458.60 321.80,457.00" fill="none" stroke="#c43252" stroke-width="1.0"/>
<circle cx="241.80" cy="471.00" r="1.35" fill="#9a1a3a"/>
<circle cx="257.80" cy="459.80" r="1.35" fill="#9a1a3a"/>
<circle cx="273.80" cy="459.50" r="1.35" fill="#9a1a3a"/>
<circle cx="289.80" cy="458.60" r="1.35" fill="#9a1a3a"/>
<circle cx="305.80" cy="458.60" r="1.35" fill="#9a1a3a"/>
<circle cx="321.80" cy="457.00" r="1.35" fill="#9a1a3a"/>
<line x1="241.80" y1="468.20" x2="241.80" y2="470.60" stroke="#4a6f9a" stroke-width="0.85"/>
<line x1="240.00" y1="468.20" x2="243.60" y2="468.20" stroke="#4a6f9a" stroke-width="0.85"/>
<line x1="240.00" y1="470.60" x2="243.60" y2="470.60" stroke="#4a6f9a" stroke-width="0.85"/>
<line x1="257.80" y1="457.10" x2="257.80" y2="459.30" stroke="#4a6f9a" stroke-width="0.85"/>
<line x1="256.00" y1="457.10" x2="259.60" y2="457.10" stroke="#4a6f9a" stroke-width="0.85"/>
<line x1="256.00" y1="459.30" x2="259.60" y2="459.30" stroke="#4a6f9a" stroke-width="0.85"/>
<line x1="273.80" y1="455.50" x2="273.80" y2="458.10" stroke="#4a6f9a" stroke-width="0.85"/>
<line x1="272.00" y1="455.50" x2="275.60" y2="455.50" stroke="#4a6f9a" stroke-width="0.85"/>
<line x1="272.00" y1="458.10" x2="275.60" y2="458.10" stroke="#4a6f9a" stroke-width="0.85"/>
<line x1="289.80" y1="454.80" x2="289.80" y2="457.60" stroke="#4a6f9a" stroke-width="0.85"/>
<line x1="288.00" y1="454.80" x2="291.60" y2="454.80" stroke="#4a6f9a" stroke-width="0.85"/>
<line x1="288.00" y1="457.60" x2="291.60" y2="457.60" stroke="#4a6f9a" stroke-width="0.85"/>
<line x1="305.80" y1="455.80" x2="305.80" y2="458.20" stroke="#4a6f9a" stroke-width="0.85"/>
<line x1="304.00" y1="455.80" x2="307.60" y2="455.80" stroke="#4a6f9a" stroke-width="0.85"/>
<line x1="304.00" y1="458.20" x2="307.60" y2="458.20" stroke="#4a6f9a" stroke-width="0.85"/>
<line x1="321.80" y1="455.30" x2="321.80" y2="457.70" stroke="#4a6f9a" stroke-width="0.85"/>
<line x1="320.00" y1="455.30" x2="323.60" y2="455.30" stroke="#4a6f9a" stroke-width="0.85"/>
<line x1="320.00" y1="457.70" x2="323.60" y2="457.70" stroke="#4a6f9a" stroke-width="0.85"/>
<polyline points="241.80,469.40 257.80,458.20 273.80,456.80 289.80,456.20 305.80,457.00 321.80,456.50" fill="none" stroke="#2d62a0" stroke-width="1.0"/>
<circle cx="241.80" cy="469.40" r="1.35" fill="#1c3558"/>
<circle cx="257.80" cy="458.20" r="1.35" fill="#1c3558"/>
<circle cx="273.80" cy="456.80" r="1.35" fill="#1c3558"/>
<circle cx="289.80" cy="456.20" r="1.35" fill="#1c3558"/>
<circle cx="305.80" cy="457.00" r="1.35" fill="#1c3558"/>
<circle cx="321.80" cy="456.50" r="1.35" fill="#1c3558"/>
<line x1="281.50" y1="507.80" x2="289.80" y2="507.80" stroke="#2d62a0" stroke-width="1.0"/>
<circle cx="285.65" cy="507.80" r="1.2" fill="#1c3558"/>
<line x1="281.50" y1="518.30" x2="289.80" y2="518.30" stroke="#c43252" stroke-width="1.0"/>
<circle cx="285.65" cy="518.30" r="1.2" fill="#9a1a3a"/>
<text x="291.70" y="510.14" font-size="6.5" textLength="9.00" lengthAdjust="spacingAndGlyphs" fill="#3a3a3a" color="#3a3a3a">WT</text>
<text x="291.70" y="520.64" font-size="6.5" textLength="35.00" lengthAdjust="spacingAndGlyphs" fill="#3a3a3a" color="#3a3a3a">CD99 Gt/Gt</text>
<text class="big" x="416.85" y="445.02" font-size="8.4" text-anchor="middle" textLength="18.10" lengthAdjust="spacingAndGlyphs" fill="#3a3a3a" color="#3a3a3a">Total</text>
<line x1="369.00" y1="452.70" x2="369.00" y2="524.90" stroke="#2b2b2b" stroke-width="1.2"/>
<line x1="366.00" y1="524.40" x2="369.00" y2="524.40" stroke="#2b2b2b" stroke-width="1.05"/>
<text x="363.00" y="526.67" font-size="6.3" text-anchor="end" fill="#3a3a3a" color="#3a3a3a">0</text>
<line x1="366.00" y1="510.22" x2="369.00" y2="510.22" stroke="#2b2b2b" stroke-width="1.05"/>
<text x="363.00" y="512.49" font-size="6.3" text-anchor="end" fill="#3a3a3a" color="#3a3a3a">20</text>
<line x1="366.00" y1="496.04" x2="369.00" y2="496.04" stroke="#2b2b2b" stroke-width="1.05"/>
<text x="363.00" y="498.31" font-size="6.3" text-anchor="end" fill="#3a3a3a" color="#3a3a3a">40</text>
<line x1="366.00" y1="481.86" x2="369.00" y2="481.86" stroke="#2b2b2b" stroke-width="1.05"/>
<text x="363.00" y="484.13" font-size="6.3" text-anchor="end" fill="#3a3a3a" color="#3a3a3a">60</text>
<line x1="366.00" y1="467.68" x2="369.00" y2="467.68" stroke="#2b2b2b" stroke-width="1.05"/>
<text x="363.00" y="469.95" font-size="6.3" text-anchor="end" fill="#3a3a3a" color="#3a3a3a">80</text>
<line x1="366.00" y1="453.50" x2="369.00" y2="453.50" stroke="#2b2b2b" stroke-width="1.05"/>
<text x="363.00" y="455.77" font-size="6.3" text-anchor="end" fill="#3a3a3a" color="#3a3a3a">100</text>
<line x1="366.00" y1="524.40" x2="463.00" y2="524.40" stroke="#2b2b2b" stroke-width="1.2"/>
<line x1="380.60" y1="524.40" x2="380.60" y2="527.20" stroke="#2b2b2b" stroke-width="1.05"/>
<text x="380.60" y="535.97" font-size="6.3" text-anchor="middle" fill="#3a3a3a" color="#3a3a3a">4</text>
<line x1="404.80" y1="524.40" x2="404.80" y2="527.20" stroke="#2b2b2b" stroke-width="1.05"/>
<text x="404.80" y="535.97" font-size="6.3" text-anchor="middle" fill="#3a3a3a" color="#3a3a3a">8</text>
<line x1="428.90" y1="524.40" x2="428.90" y2="527.20" stroke="#2b2b2b" stroke-width="1.05"/>
<text x="428.90" y="535.97" font-size="6.3" text-anchor="middle" fill="#3a3a3a" color="#3a3a3a">12</text>
<line x1="452.90" y1="524.40" x2="452.90" y2="527.20" stroke="#2b2b2b" stroke-width="1.05"/>
<text x="452.90" y="535.97" font-size="6.3" text-anchor="middle" fill="#3a3a3a" color="#3a3a3a">16</text>
<text class="big" x="416.90" y="549.18" font-size="8" text-anchor="middle" textLength="19.00" lengthAdjust="spacingAndGlyphs" fill="#3a3a3a" color="#3a3a3a">Weeks</text>
<text transform="translate(347.41,485.70) rotate(-90)" text-anchor="middle" font-size="7.8" textLength="49.50" lengthAdjust="spacingAndGlyphs" fill="#3a3a3a" color="#3a3a3a">% Donor derived</text>
<line x1="380.60" y1="496.50" x2="380.60" y2="500.50" stroke="#cc5472" stroke-width="0.85"/>
<line x1="378.80" y1="496.50" x2="382.40" y2="496.50" stroke="#cc5472" stroke-width="0.85"/>
<line x1="378.80" y1="500.50" x2="382.40" y2="500.50" stroke="#cc5472" stroke-width="0.85"/>
<line x1="404.80" y1="486.50" x2="404.80" y2="496.50" stroke="#cc5472" stroke-width="0.85"/>
<line x1="403.00" y1="486.50" x2="406.60" y2="486.50" stroke="#cc5472" stroke-width="0.85"/>
<line x1="403.00" y1="496.50" x2="406.60" y2="496.50" stroke="#cc5472" stroke-width="0.85"/>
<line x1="428.90" y1="485.50" x2="428.90" y2="497.50" stroke="#cc5472" stroke-width="0.85"/>
<line x1="427.10" y1="485.50" x2="430.70" y2="485.50" stroke="#cc5472" stroke-width="0.85"/>
<line x1="427.10" y1="497.50" x2="430.70" y2="497.50" stroke="#cc5472" stroke-width="0.85"/>
<line x1="452.90" y1="486.50" x2="452.90" y2="498.50" stroke="#cc5472" stroke-width="0.85"/>
<line x1="451.10" y1="486.50" x2="454.70" y2="486.50" stroke="#cc5472" stroke-width="0.85"/>
<line x1="451.10" y1="498.50" x2="454.70" y2="498.50" stroke="#cc5472" stroke-width="0.85"/>
<polyline points="380.60,498.60 404.80,491.50 428.90,491.50 452.90,492.50" fill="none" stroke="#c43252" stroke-width="1.0"/>
<circle cx="380.60" cy="498.60" r="1.35" fill="#9a1a3a"/>
<circle cx="404.80" cy="491.50" r="1.35" fill="#9a1a3a"/>
<circle cx="428.90" cy="491.50" r="1.35" fill="#9a1a3a"/>
<circle cx="452.90" cy="492.50" r="1.35" fill="#9a1a3a"/>
<line x1="380.60" y1="490.50" x2="380.60" y2="495.70" stroke="#4a6f9a" stroke-width="0.85"/>
<line x1="378.80" y1="490.50" x2="382.40" y2="490.50" stroke="#4a6f9a" stroke-width="0.85"/>
<line x1="378.80" y1="495.70" x2="382.40" y2="495.70" stroke="#4a6f9a" stroke-width="0.85"/>
<line x1="404.80" y1="474.50" x2="404.80" y2="479.70" stroke="#4a6f9a" stroke-width="0.85"/>
<line x1="403.00" y1="474.50" x2="406.60" y2="474.50" stroke="#4a6f9a" stroke-width="0.85"/>
<line x1="403.00" y1="479.70" x2="406.60" y2="479.70" stroke="#4a6f9a" stroke-width="0.85"/>
<line x1="428.90" y1="469.50" x2="428.90" y2="475.50" stroke="#4a6f9a" stroke-width="0.85"/>
<line x1="427.10" y1="469.50" x2="430.70" y2="469.50" stroke="#4a6f9a" stroke-width="0.85"/>
<line x1="427.10" y1="475.50" x2="430.70" y2="475.50" stroke="#4a6f9a" stroke-width="0.85"/>
<line x1="452.90" y1="467.50" x2="452.90" y2="474.30" stroke="#4a6f9a" stroke-width="0.85"/>
<line x1="451.10" y1="467.50" x2="454.70" y2="467.50" stroke="#4a6f9a" stroke-width="0.85"/>
<line x1="451.10" y1="474.30" x2="454.70" y2="474.30" stroke="#4a6f9a" stroke-width="0.85"/>
<polyline points="380.60,493.10 404.80,477.10 428.90,472.50 452.90,470.90" fill="none" stroke="#2d62a0" stroke-width="1.0"/>
<circle cx="380.60" cy="493.10" r="1.35" fill="#1c3558"/>
<circle cx="404.80" cy="477.10" r="1.35" fill="#1c3558"/>
<circle cx="428.90" cy="472.50" r="1.35" fill="#1c3558"/>
<circle cx="452.90" cy="470.90" r="1.35" fill="#1c3558"/>
<text x="404.90" y="472.27" font-size="6.3" text-anchor="middle" font-weight="bold" fill="#222" color="#222">*</text>
<text x="428.90" y="466.17" font-size="6.3" text-anchor="middle" font-weight="bold" fill="#222" color="#222">**</text>
<text x="452.90" y="463.47" font-size="6.3" text-anchor="middle" font-weight="bold" fill="#222" color="#222">**</text>
<line x1="415.40" y1="507.80" x2="423.70" y2="507.80" stroke="#2d62a0" stroke-width="1.0"/>
<circle cx="419.55" cy="507.80" r="1.2" fill="#1c3558"/>
<line x1="415.40" y1="518.30" x2="423.70" y2="518.30" stroke="#c43252" stroke-width="1.0"/>
<circle cx="419.55" cy="518.30" r="1.2" fill="#9a1a3a"/>
<text x="426.20" y="510.14" font-size="6.5" textLength="9.00" lengthAdjust="spacingAndGlyphs" fill="#3a3a3a" color="#3a3a3a">WT</text>
<text x="426.20" y="520.64" font-size="6.5" textLength="34.80" lengthAdjust="spacingAndGlyphs" fill="#3a3a3a" color="#3a3a3a">CD99 Gt/Gt</text>
<text x="7.30" y="569.80" font-size="10.5" font-weight="bold" fill="#111" color="#111">J</text>
<text class="big" x="22.70" y="571.06" font-size="9.6" textLength="160.30" lengthAdjust="spacingAndGlyphs" fill="#3a3a3a" color="#3a3a3a">Competitive Bone Marrow Transplantation</text>
<text x="52.30" y="581.18" font-size="6.6" text-anchor="middle" textLength="35.50" lengthAdjust="spacingAndGlyphs" fill="#3a3a3a" color="#3a3a3a">CD99 Gt/Gt</text>
<text x="52.30" y="588.38" font-size="6.6" text-anchor="middle" fill="#3a3a3a" color="#3a3a3a">or</text>
<text x="52.30" y="596.08" font-size="6.6" text-anchor="middle" fill="#3a3a3a" color="#3a3a3a">WT</text>
<text x="52.30" y="603.18" font-size="6.6" text-anchor="middle" textLength="27.00" lengthAdjust="spacingAndGlyphs" fill="#3a3a3a" color="#3a3a3a">(CD45.1)</text>
<path d="M46.70,615.80 Q37.70,616.30 30.80,613.55" fill="none" stroke="#d9d5d4" stroke-width="1.50" stroke-linecap="round"/>
<path d="M44.60,613.55 C44.60,609.55 47.75,606.05 52.58,605.80 C55.10,605.67 57.20,606.17 58.46,607.05 C59.72,607.30 60.98,607.30 61.82,608.30 C63.50,610.17 64.97,612.67 65.60,614.80 C65.18,615.80 63.50,616.30 61.40,616.42 C59.30,618.05 54.05,618.55 48.80,618.05 C46.28,617.67 44.60,615.80 44.60,613.55 Z" fill="#403c3a"/>
<ellipse cx="50.90" cy="612.67" rx="4.20" ry="3.75" fill="#6e6a66" opacity="0.5"/>
<ellipse cx="60.98" cy="612.67" rx="2.94" ry="3.12" fill="#2a2420" opacity="0.8"/>
<ellipse cx="61.82" cy="607.05" rx="0.73" ry="1.25" fill="#8d8580"/>
<ellipse cx="57.62" cy="609.92" rx="1.64" ry="2.50" fill="#d4c2b0"/>
<ellipse cx="51.95" cy="617.92" rx="1.47" ry="0.62" fill="#c9beb8"/>
<ellipse cx="59.72" cy="617.42" rx="1.05" ry="0.62" fill="#b9aea8"/>
<text x="71.25" y="611.68" font-size="6.6" textLength="47.50" lengthAdjust="spacingAndGlyphs" fill="#3a3a3a" color="#3a3a3a">5 × 10<tspan font-size="4" dy="-2.3">5</tspan><tspan dy="2.3"> BM cells</tspan></text>
<line x1="70.20" y1="615.20" x2="117.50" y2="615.20" stroke="#1a1a1a" stroke-width="1.3"/>
<polygon points="115.50,612.60 121.50,615.20 115.50,617.80 116.90,615.20" fill="#1a1a1a"/>
<text x="61.25" y="623.18" font-size="6.6" textLength="66.75" lengthAdjust="spacingAndGlyphs" fill="#3a3a3a" color="#3a3a3a">5 × 10<tspan font-size="4" dy="-2.3">5</tspan><tspan dy="2.3"> Competitor BM</tspan></text>
<text x="95.00" y="629.88" font-size="6.6" text-anchor="middle" textLength="27.00" lengthAdjust="spacingAndGlyphs" fill="#3a3a3a" color="#3a3a3a">(CD45.2)</text>
<text x="112.00" y="588.63" font-size="6.6" textLength="65.50" lengthAdjust="spacingAndGlyphs" fill="#3a3a3a" color="#3a3a3a">Primary Recipient Mice</text>
<polygon points="133.25,592.57 139.54,592.00 139.72,597.13 141.21,598.27 142.50,606.25 138.06,601.12 137.88,599.41 136.03,598.41" fill="#f0e52c" stroke="#6b6420" stroke-width="0.4" stroke-linejoin="round"/>
<polyline points="133.25,592.57 136.03,598.41 137.88,599.41 138.06,601.12 142.50,606.25" fill="none" stroke="#1c1c1c" stroke-width="1.1" stroke-linejoin="round"/>
<text x="145.00" y="603.63" font-size="6.6" textLength="36.25" lengthAdjust="spacingAndGlyphs" fill="#3a3a3a" color="#3a3a3a">WT (CD45.2)</text>
<path d="M142.26,615.32 Q133.22,615.82 126.25,613.09" fill="none" stroke="#d9d5d4" stroke-width="1.49" stroke-linecap="round"/>
<path d="M140.20,613.09 C140.20,609.12 143.29,605.65 148.03,605.40 C150.50,605.28 152.56,605.77 153.80,606.64 C155.03,606.89 156.27,606.89 157.09,607.88 C158.74,609.74 160.18,612.22 160.80,614.33 C160.39,615.32 158.74,615.82 156.68,615.94 C154.62,617.55 149.47,618.05 144.32,617.55 C141.85,617.18 140.20,615.32 140.20,613.09 Z" fill="#403c3a"/>
<ellipse cx="146.38" cy="612.22" rx="4.12" ry="3.72" fill="#6e6a66" opacity="0.5"/>
<ellipse cx="156.27" cy="612.22" rx="2.88" ry="3.10" fill="#2a2420" opacity="0.8"/>
<ellipse cx="157.09" cy="606.64" rx="0.72" ry="1.24" fill="#8d8580"/>
<ellipse cx="152.97" cy="609.49" rx="1.61" ry="2.48" fill="#d4c2b0"/>
<ellipse cx="147.41" cy="617.43" rx="1.44" ry="0.62" fill="#c9beb8"/>
<ellipse cx="155.03" cy="616.93" rx="1.03" ry="0.62" fill="#b9aea8"/>
<text x="21.50" y="647.38" font-size="6.6" textLength="65.40" lengthAdjust="spacingAndGlyphs" fill="#3a3a3a" color="#3a3a3a">Primary Recipient Mice</text>
<path d="M45.97,661.96 Q36.35,662.45 28.80,659.76" fill="none" stroke="#d9d5d4" stroke-width="1.46" stroke-linecap="round"/>
<path d="M43.90,659.76 C43.90,655.86 47.00,652.44 51.77,652.20 C54.25,652.08 56.32,652.57 57.56,653.42 C58.80,653.66 60.05,653.66 60.87,654.64 C62.53,656.47 63.98,658.91 64.60,660.98 C64.19,661.96 62.53,662.45 60.46,662.57 C58.39,664.16 53.21,664.64 48.04,664.16 C45.56,663.79 43.90,661.96 43.90,659.76 Z" fill="#403c3a"/>
<ellipse cx="50.11" cy="658.91" rx="4.14" ry="3.66" fill="#6e6a66" opacity="0.5"/>
<ellipse cx="60.05" cy="658.91" rx="2.90" ry="3.05" fill="#2a2420" opacity="0.8"/>
<ellipse cx="60.87" cy="653.42" rx="0.72" ry="1.22" fill="#8d8580"/>
<ellipse cx="56.73" cy="656.23" rx="1.61" ry="2.44" fill="#d4c2b0"/>
<ellipse cx="51.14" cy="664.03" rx="1.45" ry="0.61" fill="#c9beb8"/>
<ellipse cx="58.80" cy="663.55" rx="1.03" ry="0.61" fill="#b9aea8"/>
<text x="71.50" y="657.38" font-size="6.6" textLength="46.40" lengthAdjust="spacingAndGlyphs" fill="#3a3a3a" color="#3a3a3a">4 × 10<tspan font-size="4" dy="-2.3">6</tspan><tspan dy="2.3"> BM cells</tspan></text>
<line x1="70.20" y1="660.60" x2="116.60" y2="660.60" stroke="#1a1a1a" stroke-width="1.3"/>
<polygon points="114.60,658.00 120.60,660.60 114.60,663.20 116.00,660.60" fill="#1a1a1a"/>
<text x="109.80" y="637.18" font-size="6.6" textLength="74.00" lengthAdjust="spacingAndGlyphs" fill="#3a3a3a" color="#3a3a3a">Secondary Recipient Mice</text>
<polygon points="132.70,640.18 139.23,639.60 139.42,644.78 140.96,645.94 142.30,654.00 137.69,648.82 137.50,647.09 135.58,646.08" fill="#f0e52c" stroke="#6b6420" stroke-width="0.4" stroke-linejoin="round"/>
<polyline points="132.70,640.18 135.58,646.08 137.50,647.09 137.69,648.82 142.30,654.00" fill="none" stroke="#1c1c1c" stroke-width="1.1" stroke-linejoin="round"/>
<text x="144.80" y="651.18" font-size="6.6" textLength="35.60" lengthAdjust="spacingAndGlyphs" fill="#3a3a3a" color="#3a3a3a">WT (CD45.2)</text>
<path d="M142.78,662.60 Q133.65,663.08 126.50,660.44" fill="none" stroke="#d9d5d4" stroke-width="1.44" stroke-linecap="round"/>
<path d="M140.80,660.44 C140.80,656.60 143.77,653.24 148.32,653.00 C150.70,652.88 152.68,653.36 153.87,654.20 C155.06,654.44 156.24,654.44 157.04,655.40 C158.62,657.20 160.01,659.60 160.60,661.64 C160.20,662.60 158.62,663.08 156.64,663.20 C154.66,664.76 149.71,665.24 144.76,664.76 C142.38,664.40 140.80,662.60 140.80,660.44 Z" fill="#403c3a"/>
<ellipse cx="146.74" cy="659.60" rx="3.96" ry="3.60" fill="#6e6a66" opacity="0.5"/>
<ellipse cx="156.24" cy="659.60" rx="2.77" ry="3.00" fill="#2a2420" opacity="0.8"/>
<ellipse cx="157.04" cy="654.20" rx="0.69" ry="1.20" fill="#8d8580"/>
<ellipse cx="153.08" cy="656.96" rx="1.54" ry="2.40" fill="#d4c2b0"/>
<ellipse cx="147.73" cy="664.64" rx="1.39" ry="0.60" fill="#c9beb8"/>
<ellipse cx="155.06" cy="664.16" rx="0.99" ry="0.60" fill="#b9aea8"/>
<text class="big" x="269.05" y="576.62" font-size="8.4" text-anchor="middle" textLength="17.90" lengthAdjust="spacingAndGlyphs" fill="#3a3a3a" color="#3a3a3a">Total</text>
<line x1="221.90" y1="583.60" x2="221.90" y2="655.00" stroke="#2b2b2b" stroke-width="1.2"/>
<line x1="218.90" y1="654.50" x2="221.90" y2="654.50" stroke="#2b2b2b" stroke-width="1.05"/>
<text x="215.90" y="656.77" font-size="6.3" text-anchor="end" fill="#3a3a3a" color="#3a3a3a">0</text>
<line x1="218.90" y1="640.48" x2="221.90" y2="640.48" stroke="#2b2b2b" stroke-width="1.05"/>
<text x="215.90" y="642.75" font-size="6.3" text-anchor="end" fill="#3a3a3a" color="#3a3a3a">20</text>
<line x1="218.90" y1="626.46" x2="221.90" y2="626.46" stroke="#2b2b2b" stroke-width="1.05"/>
<text x="215.90" y="628.73" font-size="6.3" text-anchor="end" fill="#3a3a3a" color="#3a3a3a">40</text>
<line x1="218.90" y1="612.44" x2="221.90" y2="612.44" stroke="#2b2b2b" stroke-width="1.05"/>
<text x="215.90" y="614.71" font-size="6.3" text-anchor="end" fill="#3a3a3a" color="#3a3a3a">60</text>
<line x1="218.90" y1="598.42" x2="221.90" y2="598.42" stroke="#2b2b2b" stroke-width="1.05"/>
<text x="215.90" y="600.69" font-size="6.3" text-anchor="end" fill="#3a3a3a" color="#3a3a3a">80</text>
<line x1="218.90" y1="584.40" x2="221.90" y2="584.40" stroke="#2b2b2b" stroke-width="1.05"/>
<text x="215.90" y="586.67" font-size="6.3" text-anchor="end" fill="#3a3a3a" color="#3a3a3a">100</text>
<line x1="218.90" y1="654.50" x2="313.50" y2="654.50" stroke="#2b2b2b" stroke-width="1.2"/>
<line x1="229.50" y1="654.50" x2="229.50" y2="657.30" stroke="#2b2b2b" stroke-width="1.05"/>
<text x="229.50" y="666.27" font-size="6.3" text-anchor="middle" fill="#3a3a3a" color="#3a3a3a">6</text>
<line x1="245.22" y1="654.50" x2="245.22" y2="657.30" stroke="#2b2b2b" stroke-width="1.05"/>
<text x="245.22" y="666.27" font-size="6.3" text-anchor="middle" fill="#3a3a3a" color="#3a3a3a">10</text>
<line x1="260.94" y1="654.50" x2="260.94" y2="657.30" stroke="#2b2b2b" stroke-width="1.05"/>
<text x="260.94" y="666.27" font-size="6.3" text-anchor="middle" fill="#3a3a3a" color="#3a3a3a">14</text>
<line x1="276.66" y1="654.50" x2="276.66" y2="657.30" stroke="#2b2b2b" stroke-width="1.05"/>
<text x="276.66" y="666.27" font-size="6.3" text-anchor="middle" fill="#3a3a3a" color="#3a3a3a">18</text>
<line x1="292.38" y1="654.50" x2="292.38" y2="657.30" stroke="#2b2b2b" stroke-width="1.05"/>
<text x="292.38" y="666.27" font-size="6.3" text-anchor="middle" fill="#3a3a3a" color="#3a3a3a">22</text>
<line x1="308.10" y1="654.50" x2="308.10" y2="657.30" stroke="#2b2b2b" stroke-width="1.05"/>
<text x="308.10" y="666.27" font-size="6.3" text-anchor="middle" fill="#3a3a3a" color="#3a3a3a">28</text>
<text class="big" x="269.30" y="679.08" font-size="8" text-anchor="middle" textLength="19.00" lengthAdjust="spacingAndGlyphs" fill="#3a3a3a" color="#3a3a3a">Weeks</text>
<text transform="translate(200.01,618.20) rotate(-90)" text-anchor="middle" font-size="7.8" textLength="49.50" lengthAdjust="spacingAndGlyphs" fill="#3a3a3a" color="#3a3a3a">% Donor derived</text>
<line x1="229.50" y1="637.20" x2="229.50" y2="641.80" stroke="#cc5472" stroke-width="0.85"/>
<line x1="227.70" y1="637.20" x2="231.30" y2="637.20" stroke="#cc5472" stroke-width="0.85"/>
<line x1="227.70" y1="641.80" x2="231.30" y2="641.80" stroke="#cc5472" stroke-width="0.85"/>
<line x1="245.22" y1="641.00" x2="245.22" y2="643.40" stroke="#cc5472" stroke-width="0.85"/>
<line x1="243.42" y1="641.00" x2="247.02" y2="641.00" stroke="#cc5472" stroke-width="0.85"/>
<line x1="243.42" y1="643.40" x2="247.02" y2="643.40" stroke="#cc5472" stroke-width="0.85"/>
<line x1="260.94" y1="637.50" x2="260.94" y2="642.10" stroke="#cc5472" stroke-width="0.85"/>
<line x1="259.14" y1="637.50" x2="262.74" y2="637.50" stroke="#cc5472" stroke-width="0.85"/>
<line x1="259.14" y1="642.10" x2="262.74" y2="642.10" stroke="#cc5472" stroke-width="0.85"/>
<line x1="276.66" y1="643.20" x2="276.66" y2="646.80" stroke="#cc5472" stroke-width="0.85"/>
<line x1="274.86" y1="643.20" x2="278.46" y2="643.20" stroke="#cc5472" stroke-width="0.85"/>
<line x1="274.86" y1="646.80" x2="278.46" y2="646.80" stroke="#cc5472" stroke-width="0.85"/>
<line x1="292.38" y1="641.00" x2="292.38" y2="645.60" stroke="#cc5472" stroke-width="0.85"/>
<line x1="290.58" y1="641.00" x2="294.18" y2="641.00" stroke="#cc5472" stroke-width="0.85"/>
<line x1="290.58" y1="645.60" x2="294.18" y2="645.60" stroke="#cc5472" stroke-width="0.85"/>
<line x1="308.10" y1="643.20" x2="308.10" y2="649.60" stroke="#cc5472" stroke-width="0.85"/>
<line x1="306.30" y1="643.20" x2="309.90" y2="643.20" stroke="#cc5472" stroke-width="0.85"/>
<line x1="306.30" y1="649.60" x2="309.90" y2="649.60" stroke="#cc5472" stroke-width="0.85"/>
<polyline points="229.50,639.50 245.22,642.20 260.94,639.80 276.66,645.00 292.38,643.30 308.10,646.40" fill="none" stroke="#c43252" stroke-width="1.0"/>
<circle cx="229.50" cy="639.50" r="1.35" fill="#9a1a3a"/>
<circle cx="245.22" cy="642.20" r="1.35" fill="#9a1a3a"/>
<circle cx="260.94" cy="639.80" r="1.35" fill="#9a1a3a"/>
<circle cx="276.66" cy="645.00" r="1.35" fill="#9a1a3a"/>
<circle cx="292.38" cy="643.30" r="1.35" fill="#9a1a3a"/>
<circle cx="308.10" cy="646.40" r="1.35" fill="#9a1a3a"/>
<line x1="229.50" y1="628.80" x2="229.50" y2="630.80" stroke="#4a6f9a" stroke-width="0.85"/>
<line x1="227.70" y1="628.80" x2="231.30" y2="628.80" stroke="#4a6f9a" stroke-width="0.85"/>
<line x1="227.70" y1="630.80" x2="231.30" y2="630.80" stroke="#4a6f9a" stroke-width="0.85"/>
<line x1="245.22" y1="630.80" x2="245.22" y2="633.60" stroke="#4a6f9a" stroke-width="0.85"/>
<line x1="243.42" y1="630.80" x2="247.02" y2="630.80" stroke="#4a6f9a" stroke-width="0.85"/>
<line x1="243.42" y1="633.60" x2="247.02" y2="633.60" stroke="#4a6f9a" stroke-width="0.85"/>
<line x1="260.94" y1="630.30" x2="260.94" y2="637.50" stroke="#4a6f9a" stroke-width="0.85"/>
<line x1="259.14" y1="630.30" x2="262.74" y2="630.30" stroke="#4a6f9a" stroke-width="0.85"/>
<line x1="259.14" y1="637.50" x2="262.74" y2="637.50" stroke="#4a6f9a" stroke-width="0.85"/>
<line x1="276.66" y1="628.30" x2="276.66" y2="635.30" stroke="#4a6f9a" stroke-width="0.85"/>
<line x1="274.86" y1="628.30" x2="278.46" y2="628.30" stroke="#4a6f9a" stroke-width="0.85"/>
<line x1="274.86" y1="635.30" x2="278.46" y2="635.30" stroke="#4a6f9a" stroke-width="0.85"/>
<line x1="292.38" y1="623.70" x2="292.38" y2="631.70" stroke="#4a6f9a" stroke-width="0.85"/>
<line x1="290.58" y1="623.70" x2="294.18" y2="623.70" stroke="#4a6f9a" stroke-width="0.85"/>
<line x1="290.58" y1="631.70" x2="294.18" y2="631.70" stroke="#4a6f9a" stroke-width="0.85"/>
<line x1="308.10" y1="623.70" x2="308.10" y2="631.70" stroke="#4a6f9a" stroke-width="0.85"/>
<line x1="306.30" y1="623.70" x2="309.90" y2="623.70" stroke="#4a6f9a" stroke-width="0.85"/>
<line x1="306.30" y1="631.70" x2="309.90" y2="631.70" stroke="#4a6f9a" stroke-width="0.85"/>
<polyline points="229.50,629.80 245.22,632.20 260.94,633.90 276.66,631.80 292.38,627.70 308.10,627.70" fill="none" stroke="#2d62a0" stroke-width="1.0"/>
<circle cx="229.50" cy="629.80" r="1.35" fill="#1c3558"/>
<circle cx="245.22" cy="632.20" r="1.35" fill="#1c3558"/>
<circle cx="260.94" cy="633.90" r="1.35" fill="#1c3558"/>
<circle cx="276.66" cy="631.80" r="1.35" fill="#1c3558"/>
<circle cx="292.38" cy="627.70" r="1.35" fill="#1c3558"/>
<circle cx="308.10" cy="627.70" r="1.35" fill="#1c3558"/>
<text x="229.50" y="624.67" font-size="6.3" text-anchor="middle" font-weight="bold" fill="#222" color="#222">+</text>
<text x="245.20" y="629.07" font-size="6.3" text-anchor="middle" font-weight="bold" fill="#222" color="#222">***</text>
<text x="276.90" y="625.48" font-size="5.5" text-anchor="middle" font-weight="bold" fill="#444" color="#444">#</text>
<text x="308.10" y="620.57" font-size="6.3" text-anchor="middle" font-weight="bold" fill="#222" color="#222">*</text>
<line x1="270.70" y1="588.60" x2="278.60" y2="588.60" stroke="#2d62a0" stroke-width="1.0"/>
<circle cx="274.65" cy="588.60" r="1.2" fill="#1c3558"/>
<line x1="270.70" y1="598.30" x2="278.60" y2="598.30" stroke="#c43252" stroke-width="1.0"/>
<circle cx="274.65" cy="598.30" r="1.2" fill="#9a1a3a"/>
<text x="281.00" y="590.94" font-size="6.5" textLength="9.00" lengthAdjust="spacingAndGlyphs" fill="#3a3a3a" color="#3a3a3a">WT</text>
<text x="281.00" y="600.64" font-size="6.5" textLength="34.70" lengthAdjust="spacingAndGlyphs" fill="#3a3a3a" color="#3a3a3a">CD99 Gt/Gt</text>
<text x="331.70" y="569.40" font-size="10.5" font-weight="bold" fill="#111" color="#111">K</text>
<rect x="400.20" y="586.10" width="14.80" height="68.30" fill="#19538f"/>
<rect x="423.20" y="614.70" width="15.20" height="39.70" fill="#cf112f"/>
<line x1="392.30" y1="573.20" x2="392.30" y2="654.90" stroke="#2b2b2b" stroke-width="1.2"/>
<line x1="389.30" y1="654.40" x2="392.30" y2="654.40" stroke="#2b2b2b" stroke-width="1.05"/>
<text x="386.30" y="656.67" font-size="6.3" text-anchor="end" fill="#3a3a3a" color="#3a3a3a">0</text>
<line x1="389.30" y1="638.32" x2="392.30" y2="638.32" stroke="#2b2b2b" stroke-width="1.05"/>
<text x="386.30" y="640.59" font-size="6.3" text-anchor="end" fill="#3a3a3a" color="#3a3a3a">20</text>
<line x1="389.30" y1="622.24" x2="392.30" y2="622.24" stroke="#2b2b2b" stroke-width="1.05"/>
<text x="386.30" y="624.51" font-size="6.3" text-anchor="end" fill="#3a3a3a" color="#3a3a3a">40</text>
<line x1="389.30" y1="606.16" x2="392.30" y2="606.16" stroke="#2b2b2b" stroke-width="1.05"/>
<text x="386.30" y="608.43" font-size="6.3" text-anchor="end" fill="#3a3a3a" color="#3a3a3a">60</text>
<line x1="389.30" y1="590.08" x2="392.30" y2="590.08" stroke="#2b2b2b" stroke-width="1.05"/>
<text x="386.30" y="592.35" font-size="6.3" text-anchor="end" fill="#3a3a3a" color="#3a3a3a">80</text>
<line x1="389.30" y1="574.00" x2="392.30" y2="574.00" stroke="#2b2b2b" stroke-width="1.05"/>
<text x="386.30" y="576.27" font-size="6.3" text-anchor="end" fill="#3a3a3a" color="#3a3a3a">100</text>
<line x1="389.30" y1="654.40" x2="446.70" y2="654.40" stroke="#2b2b2b" stroke-width="1.2"/>
<line x1="407.60" y1="654.40" x2="407.60" y2="657.20" stroke="#2b2b2b" stroke-width="1.05"/>
<line x1="430.80" y1="654.40" x2="430.80" y2="657.20" stroke="#2b2b2b" stroke-width="1.05"/>
<text x="407.60" y="581.34" font-size="6.5" text-anchor="middle" textLength="16.00" lengthAdjust="spacingAndGlyphs" fill="#3a3a3a" color="#3a3a3a">12/14</text>
<text x="430.80" y="609.64" font-size="6.5" text-anchor="middle" textLength="13.00" lengthAdjust="spacingAndGlyphs" fill="#3a3a3a" color="#3a3a3a">6/14</text>
<line x1="408.30" y1="572.50" x2="429.40" y2="572.50" stroke="#222" stroke-width="1.0"/>
<text x="418.80" y="571.98" font-size="5.5" text-anchor="middle" font-weight="bold" fill="#222" color="#222">*</text>
<text x="407.40" y="666.87" font-size="6.3" text-anchor="middle" fill="#3a3a3a" color="#3a3a3a">WT</text>
<text x="431.10" y="666.87" font-size="6.3" text-anchor="middle" fill="#3a3a3a" color="#3a3a3a">CD99</text>
<text x="431.10" y="673.67" font-size="6.3" text-anchor="middle" fill="#3a3a3a" color="#3a3a3a">Gt/Gt</text>
<text transform="translate(350.44,610.50) rotate(-90)" text-anchor="middle" font-size="7.6" textLength="74.00" lengthAdjust="spacingAndGlyphs" fill="#3a3a3a" color="#3a3a3a">% of secondary recipients</text>
<text transform="translate(361.34,610.50) rotate(-90)" text-anchor="middle" font-size="7.6" textLength="52.00" lengthAdjust="spacingAndGlyphs" fill="#3a3a3a" color="#3a3a3a">with multilineage</text>
<text transform="translate(371.04,610.50) rotate(-90)" text-anchor="middle" font-size="7.6" textLength="37.00" lengthAdjust="spacingAndGlyphs" fill="#3a3a3a" color="#3a3a3a">engraftment</text>
<rect x="0.5" y="0.5" width="519" height="687" fill="none" stroke="#555" stroke-width="1"/>
</svg></body></html>
